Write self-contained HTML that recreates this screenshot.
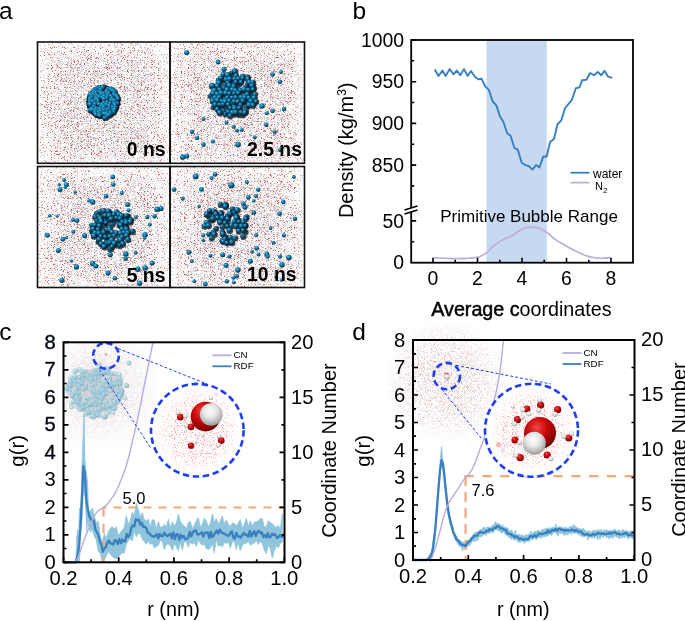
<!DOCTYPE html>
<html><head><meta charset="utf-8"><style>
html,body{margin:0;padding:0;background:#fff;width:685px;height:621px;overflow:hidden}
svg{display:block;font-family:"Liberation Sans", sans-serif;will-change:transform}
</style></head><body>
<svg width="685" height="621" viewBox="0 0 685 621">
<defs>
<radialGradient id="gBlue" cx="38%" cy="32%" r="72%"><stop offset="0" stop-color="#4ec8ee"/><stop offset="0.3" stop-color="#1a8cbc"/><stop offset="0.7" stop-color="#0b5174"/><stop offset="1" stop-color="#03202f"/></radialGradient>
<radialGradient id="gBlueD" cx="38%" cy="32%" r="72%"><stop offset="0" stop-color="#2a9ac4"/><stop offset="0.4" stop-color="#136f98"/><stop offset="1" stop-color="#042436"/></radialGradient>
<radialGradient id="gLBlue" cx="38%" cy="32%" r="72%"><stop offset="0" stop-color="#c8e6ef"/><stop offset="0.45" stop-color="#98cadb"/><stop offset="1" stop-color="#7099a8"/></radialGradient>
<radialGradient id="gRed" cx="40%" cy="32%" r="75%"><stop offset="0" stop-color="#f24848"/><stop offset="0.4" stop-color="#cc0a0a"/><stop offset="0.85" stop-color="#800000"/><stop offset="1" stop-color="#400000"/></radialGradient>
<radialGradient id="gWhite" cx="45%" cy="35%" r="70%"><stop offset="0" stop-color="#ffffff"/><stop offset="0.45" stop-color="#e4e4e4"/><stop offset="0.85" stop-color="#a8a8a8"/><stop offset="1" stop-color="#777"/></radialGradient>
<filter id="noiseAr" x="0" y="0" width="100%" height="100%">
  <feTurbulence type="fractalNoise" baseFrequency="1.7" numOctaves="1" seed="7" result="n"/>
  <feColorMatrix in="n" type="matrix" values="0 0 0 0 0.52  0 0 0 0 0.11  0 0 0 0 0.11  9 0 0 0 -5.3"/>
</filter>
<filter id="noiseAg" x="0" y="0" width="100%" height="100%">
  <feTurbulence type="fractalNoise" baseFrequency="1.7" numOctaves="1" seed="7" result="n"/>
  <feColorMatrix in="n" type="matrix" values="0 0 0 0 0.62  0 0 0 0 0.60  0 0 0 0 0.62  0 8 0 0 -3.85"/>
</filter>
<filter id="noiseR" x="0" y="0" width="100%" height="100%">
  <feTurbulence type="fractalNoise" baseFrequency="0.9" numOctaves="3" seed="3" result="n"/>
  <feColorMatrix in="n" type="matrix" values="0 0 0 0 0.95  0 0 0 0 0.25  0 0 0 0 0.25  5 0 0 0 -2.72" result="red"/>
  <feMerge><feMergeNode in="red"/></feMerge>
</filter>
<filter id="noiseD" x="0" y="0" width="100%" height="100%">
  <feTurbulence type="fractalNoise" baseFrequency="2.3" numOctaves="1" seed="11" result="n"/>
  <feColorMatrix in="n" type="matrix" values="0 0 0 0 0.66  0 0 0 0 0.36  0 0 0 0 0.36  4 0 0 0 -2.05" result="red"/>
  <feColorMatrix in="n" type="matrix" values="0 0 0 0 0.74  0 0 0 0 0.70  0 0 0 0 0.70  0 4 0 0 -1.95" result="gray"/>
  <feMerge><feMergeNode in="gray"/><feMergeNode in="red"/></feMerge>
</filter>
<filter id="noiseC" x="0" y="0" width="100%" height="100%">
  <feTurbulence type="fractalNoise" baseFrequency="1.9" numOctaves="1" seed="5" result="n"/>
  <feColorMatrix in="n" type="matrix" values="0 0 0 0 0.85  0 0 0 0 0.72  0 0 0 0 0.74  10 0 0 0 -5.0" result="red"/>
  <feColorMatrix in="n" type="matrix" values="0 0 0 0 0.80  0 0 0 0 0.80  0 0 0 0 0.82  0 10 0 0 -4.6" result="gray"/>
  <feMerge><feMergeNode in="gray"/><feMergeNode in="red"/></feMerge>
</filter>
<linearGradient id="densH" x1="0" y1="0" x2="1" y2="0"><stop offset="0" stop-color="#333"/><stop offset="0.1" stop-color="#777"/><stop offset="0.2" stop-color="#fff"/><stop offset="0.8" stop-color="#fff"/><stop offset="0.9" stop-color="#777"/><stop offset="1" stop-color="#333"/></linearGradient>
<linearGradient id="densV" x1="0" y1="0" x2="0" y2="1"><stop offset="0" stop-color="#333"/><stop offset="0.1" stop-color="#888"/><stop offset="0.18" stop-color="#fff"/><stop offset="0.85" stop-color="#fff"/><stop offset="1" stop-color="#666"/></linearGradient>
<linearGradient id="densHr" x1="0" y1="0" x2="1" y2="0"><stop offset="0" stop-color="#777"/><stop offset="0.06" stop-color="#fff"/><stop offset="0.92" stop-color="#fff"/><stop offset="1" stop-color="#666"/></linearGradient>
<linearGradient id="densVr" x1="0" y1="0" x2="0" y2="1"><stop offset="0" stop-color="#888"/><stop offset="0.06" stop-color="#fff"/><stop offset="0.94" stop-color="#fff"/><stop offset="1" stop-color="#999"/></linearGradient>
<radialGradient id="densA" cx="50%" cy="50%" r="62%"><stop offset="0" stop-color="#fff"/><stop offset="0.55" stop-color="#fff"/><stop offset="0.85" stop-color="#bbb"/><stop offset="1" stop-color="#777"/></radialGradient>
<mask id="mA"><rect x="0" y="0" width="685" height="621" fill="url(#densA)"/></mask><clipPath id="cb0"><rect x="37.5" y="42" width="132.5" height="121.30000000000001"/></clipPath><mask id="mk0"><rect x="37.5" y="42" width="132.5" height="121.30000000000001" fill="url(#densH)"/></mask><mask id="mv0"><rect x="37.5" y="42" width="132.5" height="121.30000000000001" fill="url(#densV)"/></mask><mask id="rk0"><rect x="37.5" y="42" width="132.5" height="121.30000000000001" fill="url(#densHr)"/></mask><mask id="rv0"><rect x="37.5" y="42" width="132.5" height="121.30000000000001" fill="url(#densVr)"/></mask><clipPath id="cb1"><rect x="170" y="42" width="134.5" height="121.30000000000001"/></clipPath><mask id="mk1"><rect x="170" y="42" width="134.5" height="121.30000000000001" fill="url(#densH)"/></mask><mask id="mv1"><rect x="170" y="42" width="134.5" height="121.30000000000001" fill="url(#densV)"/></mask><mask id="rk1"><rect x="170" y="42" width="134.5" height="121.30000000000001" fill="url(#densHr)"/></mask><mask id="rv1"><rect x="170" y="42" width="134.5" height="121.30000000000001" fill="url(#densVr)"/></mask><clipPath id="cb2"><rect x="37.5" y="166.5" width="132.5" height="121.0"/></clipPath><mask id="mk2"><rect x="37.5" y="166.5" width="132.5" height="121.0" fill="url(#densH)"/></mask><mask id="mv2"><rect x="37.5" y="166.5" width="132.5" height="121.0" fill="url(#densV)"/></mask><mask id="rk2"><rect x="37.5" y="166.5" width="132.5" height="121.0" fill="url(#densHr)"/></mask><mask id="rv2"><rect x="37.5" y="166.5" width="132.5" height="121.0" fill="url(#densVr)"/></mask><clipPath id="cb3"><rect x="170" y="166.5" width="134.5" height="121.0"/></clipPath><mask id="mk3"><rect x="170" y="166.5" width="134.5" height="121.0" fill="url(#densH)"/></mask><mask id="mv3"><rect x="170" y="166.5" width="134.5" height="121.0" fill="url(#densV)"/></mask><mask id="rk3"><rect x="170" y="166.5" width="134.5" height="121.0" fill="url(#densHr)"/></mask><mask id="rv3"><rect x="170" y="166.5" width="134.5" height="121.0" fill="url(#densVr)"/></mask><radialGradient id="fogCm"><stop offset="0" stop-color="#fff"/><stop offset="0.5" stop-color="#bbb"/><stop offset="1" stop-color="#000"/></radialGradient><mask id="fogCmask"><ellipse cx="100" cy="388" rx="62" ry="62" fill="url(#fogCm)"/></mask><clipPath id="clipC"><rect x="64" y="343" width="220" height="219"/></clipPath><radialGradient id="pnG1"><stop offset="0" stop-color="#fff"/><stop offset="0.6" stop-color="#ddd"/><stop offset="1" stop-color="#000"/></radialGradient><mask id="pnM1"><circle cx="197.3" cy="430.2" r="44" fill="url(#pnG1)"/></mask><radialGradient id="fogD" cx="50%" cy="50%" r="50%"><stop offset="0" stop-color="#d9b8b8" stop-opacity="0.55"/><stop offset="0.55" stop-color="#e2c8c8" stop-opacity="0.35"/><stop offset="1" stop-color="#f0e4e4" stop-opacity="0"/></radialGradient><radialGradient id="fogDm"><stop offset="0" stop-color="#fff"/><stop offset="0.5" stop-color="#ccc"/><stop offset="0.8" stop-color="#555"/><stop offset="1" stop-color="#000"/></radialGradient><mask id="fogDmask"><ellipse cx="446" cy="381" rx="62" ry="62" fill="url(#fogDm)"/></mask><radialGradient id="pnG2"><stop offset="0" stop-color="#fff"/><stop offset="0.6" stop-color="#ddd"/><stop offset="1" stop-color="#000"/></radialGradient><mask id="pnM2"><circle cx="531.5" cy="430.3" r="44" fill="url(#pnG2)"/></mask></defs>
<text x="-0.9" y="18.6" font-size="24.5" text-anchor="start" font-weight="normal" fill="#000" >a</text>
<g mask="url(#mk0)"><g mask="url(#mv0)"><rect x="38.5" y="43" width="130.5" height="119.30000000000001" filter="url(#noiseAg)"/></g></g>
<g mask="url(#rk0)"><g mask="url(#rv0)"><rect x="38.5" y="43" width="130.5" height="119.30000000000001" filter="url(#noiseAr)"/></g></g>
<g mask="url(#mk1)"><g mask="url(#mv1)"><rect x="171" y="43" width="132.5" height="119.30000000000001" filter="url(#noiseAg)"/></g></g>
<g mask="url(#rk1)"><g mask="url(#rv1)"><rect x="171" y="43" width="132.5" height="119.30000000000001" filter="url(#noiseAr)"/></g></g>
<g mask="url(#mk2)"><g mask="url(#mv2)"><rect x="38.5" y="167.5" width="130.5" height="119.0" filter="url(#noiseAg)"/></g></g>
<g mask="url(#rk2)"><g mask="url(#rv2)"><rect x="38.5" y="167.5" width="130.5" height="119.0" filter="url(#noiseAr)"/></g></g>
<g mask="url(#mk3)"><g mask="url(#mv3)"><rect x="171" y="167.5" width="132.5" height="119.0" filter="url(#noiseAg)"/></g></g>
<g mask="url(#rk3)"><g mask="url(#rv3)"><rect x="171" y="167.5" width="132.5" height="119.0" filter="url(#noiseAr)"/></g></g>
<circle cx="103" cy="102" r="16.8" fill="#06263a"/><g fill="#031822" opacity="0.8"><circle cx="104.0" cy="87.3" r="2.9"/><circle cx="103.5" cy="87.5" r="2.6"/><circle cx="100.2" cy="88.0" r="2.8"/><circle cx="103.2" cy="88.4" r="2.9"/><circle cx="98.0" cy="88.4" r="2.7"/><circle cx="108.5" cy="89.3" r="2.6"/><circle cx="111.5" cy="89.6" r="2.9"/><circle cx="101.0" cy="90.1" r="3.1"/><circle cx="95.8" cy="90.1" r="3.0"/><circle cx="113.2" cy="90.3" r="2.6"/><circle cx="110.9" cy="90.5" r="2.9"/><circle cx="94.9" cy="90.8" r="2.8"/><circle cx="107.5" cy="91.0" r="2.8"/><circle cx="96.9" cy="91.0" r="2.9"/><circle cx="94.3" cy="91.1" r="2.7"/><circle cx="95.6" cy="91.1" r="2.7"/><circle cx="113.1" cy="91.2" r="2.7"/><circle cx="94.7" cy="91.8" r="2.8"/><circle cx="115.0" cy="92.1" r="2.8"/><circle cx="93.5" cy="92.2" r="2.6"/><circle cx="114.7" cy="92.3" r="2.8"/><circle cx="98.4" cy="92.7" r="2.8"/><circle cx="106.9" cy="92.8" r="3.1"/><circle cx="115.0" cy="93.0" r="2.6"/><circle cx="100.8" cy="93.0" r="3.0"/><circle cx="96.3" cy="93.1" r="2.8"/><circle cx="106.8" cy="93.2" r="2.7"/><circle cx="109.2" cy="93.5" r="2.9"/><circle cx="93.4" cy="93.7" r="2.8"/><circle cx="115.5" cy="93.7" r="2.9"/><circle cx="101.8" cy="93.9" r="3.1"/><circle cx="104.0" cy="94.2" r="2.9"/><circle cx="92.5" cy="94.3" r="2.8"/><circle cx="114.9" cy="94.4" r="2.7"/><circle cx="94.2" cy="94.4" r="2.6"/><circle cx="96.1" cy="95.1" r="2.9"/><circle cx="93.7" cy="95.2" r="2.6"/><circle cx="90.6" cy="95.2" r="2.9"/><circle cx="114.4" cy="95.3" r="3.1"/><circle cx="107.9" cy="95.4" r="2.8"/><circle cx="102.0" cy="95.7" r="3.0"/><circle cx="94.0" cy="96.0" r="2.9"/><circle cx="109.5" cy="96.2" r="2.8"/><circle cx="109.6" cy="96.3" r="3.1"/><circle cx="116.8" cy="96.5" r="3.1"/><circle cx="92.2" cy="96.5" r="2.6"/><circle cx="97.5" cy="96.6" r="2.8"/><circle cx="108.3" cy="96.6" r="2.7"/><circle cx="104.5" cy="96.9" r="3.1"/><circle cx="111.3" cy="96.9" r="2.8"/><circle cx="100.6" cy="97.2" r="3.0"/><circle cx="107.6" cy="97.7" r="2.8"/><circle cx="96.1" cy="97.9" r="2.8"/><circle cx="99.0" cy="97.9" r="3.1"/><circle cx="102.0" cy="98.0" r="2.7"/><circle cx="118.1" cy="98.1" r="2.7"/><circle cx="100.5" cy="98.2" r="3.1"/><circle cx="103.0" cy="98.2" r="2.6"/><circle cx="91.0" cy="98.2" r="2.8"/><circle cx="96.0" cy="98.3" r="2.7"/><circle cx="92.0" cy="98.3" r="3.1"/><circle cx="96.6" cy="98.7" r="2.7"/><circle cx="98.8" cy="98.8" r="2.6"/><circle cx="96.1" cy="99.0" r="2.6"/><circle cx="106.4" cy="99.1" r="2.8"/><circle cx="90.5" cy="99.2" r="2.8"/><circle cx="112.6" cy="99.3" r="3.0"/><circle cx="107.2" cy="99.4" r="2.6"/><circle cx="118.3" cy="99.5" r="2.9"/><circle cx="104.5" cy="99.9" r="3.0"/><circle cx="97.4" cy="100.1" r="2.9"/><circle cx="90.1" cy="100.8" r="2.9"/><circle cx="111.3" cy="101.0" r="2.8"/><circle cx="113.6" cy="101.1" r="3.0"/><circle cx="91.0" cy="101.2" r="2.9"/><circle cx="92.0" cy="101.3" r="2.6"/><circle cx="114.7" cy="101.4" r="3.1"/><circle cx="98.4" cy="101.6" r="2.8"/><circle cx="93.1" cy="101.7" r="3.0"/><circle cx="95.2" cy="101.8" r="2.8"/><circle cx="90.3" cy="101.8" r="2.6"/><circle cx="93.2" cy="102.3" r="3.0"/><circle cx="107.3" cy="102.8" r="2.6"/><circle cx="107.5" cy="103.3" r="2.9"/><circle cx="104.2" cy="103.7" r="3.1"/><circle cx="117.2" cy="103.9" r="2.7"/><circle cx="118.0" cy="104.0" r="2.7"/><circle cx="98.2" cy="104.0" r="3.0"/><circle cx="110.5" cy="104.2" r="2.8"/><circle cx="96.2" cy="104.3" r="2.7"/><circle cx="91.5" cy="104.4" r="2.8"/><circle cx="90.3" cy="104.4" r="3.0"/><circle cx="114.4" cy="104.4" r="2.8"/><circle cx="89.8" cy="104.8" r="2.8"/><circle cx="115.4" cy="104.8" r="3.0"/><circle cx="104.6" cy="105.0" r="3.0"/><circle cx="99.6" cy="105.0" r="2.8"/><circle cx="90.4" cy="105.1" r="3.1"/><circle cx="95.1" cy="105.1" r="2.7"/><circle cx="102.7" cy="105.4" r="3.0"/><circle cx="107.8" cy="105.5" r="3.1"/><circle cx="106.5" cy="105.7" r="3.1"/><circle cx="109.5" cy="106.0" r="2.8"/><circle cx="115.5" cy="106.2" r="2.6"/><circle cx="102.0" cy="106.9" r="2.9"/><circle cx="104.2" cy="106.9" r="2.9"/><circle cx="112.9" cy="107.3" r="2.8"/><circle cx="94.7" cy="107.7" r="3.1"/><circle cx="94.0" cy="107.9" r="3.0"/><circle cx="116.3" cy="108.2" r="2.9"/><circle cx="104.5" cy="108.2" r="2.9"/><circle cx="115.7" cy="108.4" r="3.0"/><circle cx="93.2" cy="108.9" r="2.6"/><circle cx="96.5" cy="109.0" r="2.9"/><circle cx="109.5" cy="109.0" r="3.0"/><circle cx="92.0" cy="109.1" r="2.8"/><circle cx="99.3" cy="109.5" r="3.0"/><circle cx="103.9" cy="109.5" r="2.7"/><circle cx="104.1" cy="109.6" r="2.8"/><circle cx="103.2" cy="109.6" r="3.0"/><circle cx="100.9" cy="109.7" r="3.0"/><circle cx="109.3" cy="109.9" r="3.0"/><circle cx="113.3" cy="110.1" r="2.6"/><circle cx="96.9" cy="110.2" r="2.8"/><circle cx="94.6" cy="110.2" r="2.6"/><circle cx="106.8" cy="110.3" r="2.7"/><circle cx="107.0" cy="110.4" r="3.0"/><circle cx="114.9" cy="110.5" r="3.1"/><circle cx="90.5" cy="110.7" r="2.9"/><circle cx="92.6" cy="110.7" r="3.1"/><circle cx="95.9" cy="110.8" r="3.0"/><circle cx="100.0" cy="110.9" r="2.8"/><circle cx="102.5" cy="110.9" r="2.9"/><circle cx="108.1" cy="111.2" r="2.7"/><circle cx="106.9" cy="111.2" r="2.6"/><circle cx="104.3" cy="111.4" r="3.1"/><circle cx="99.9" cy="111.7" r="2.9"/><circle cx="98.3" cy="111.8" r="2.8"/><circle cx="102.4" cy="112.0" r="2.8"/><circle cx="100.6" cy="112.0" r="3.0"/><circle cx="114.1" cy="112.8" r="2.9"/><circle cx="111.0" cy="113.0" r="3.0"/><circle cx="98.3" cy="113.4" r="3.0"/><circle cx="95.6" cy="113.4" r="3.0"/><circle cx="95.6" cy="113.5" r="2.9"/><circle cx="112.2" cy="113.7" r="2.6"/><circle cx="107.4" cy="113.7" r="3.0"/><circle cx="110.6" cy="113.9" r="3.0"/><circle cx="104.0" cy="114.4" r="3.0"/><circle cx="104.5" cy="114.4" r="2.8"/><circle cx="106.6" cy="114.5" r="3.1"/><circle cx="99.6" cy="115.0" r="2.9"/><circle cx="110.3" cy="115.2" r="3.1"/><circle cx="96.4" cy="115.3" r="2.8"/><circle cx="101.6" cy="115.5" r="2.6"/><circle cx="108.8" cy="116.0" r="3.0"/><circle cx="99.8" cy="116.1" r="3.1"/><circle cx="100.3" cy="116.6" r="2.6"/><circle cx="106.8" cy="118.0" r="2.8"/><circle cx="105.1" cy="118.5" r="2.8"/></g><circle cx="103.4" cy="86.5" r="2.2" fill="url(#gBlue)"/><circle cx="102.9" cy="86.7" r="1.9" fill="url(#gBlue)"/><circle cx="99.6" cy="87.2" r="2.1" fill="url(#gBlue)"/><circle cx="102.6" cy="87.6" r="2.2" fill="url(#gBlue)"/><circle cx="97.4" cy="87.6" r="2.0" fill="url(#gBlue)"/><circle cx="107.9" cy="88.5" r="1.9" fill="url(#gBlue)"/><circle cx="110.9" cy="88.8" r="2.2" fill="url(#gBlue)"/><circle cx="100.4" cy="89.3" r="2.4" fill="url(#gBlue)"/><circle cx="95.2" cy="89.3" r="2.3" fill="url(#gBlue)"/><circle cx="112.6" cy="89.5" r="1.9" fill="url(#gBlue)"/><circle cx="110.3" cy="89.7" r="2.2" fill="url(#gBlue)"/><circle cx="94.3" cy="90.0" r="2.1" fill="url(#gBlue)"/><circle cx="106.9" cy="90.2" r="2.1" fill="url(#gBlue)"/><circle cx="96.3" cy="90.2" r="2.2" fill="url(#gBlue)"/><circle cx="93.7" cy="90.3" r="2.0" fill="url(#gBlue)"/><circle cx="95.0" cy="90.3" r="2.0" fill="url(#gBlue)"/><circle cx="112.5" cy="90.4" r="2.0" fill="url(#gBlue)"/><circle cx="94.1" cy="91.0" r="2.1" fill="url(#gBlue)"/><circle cx="114.4" cy="91.3" r="2.1" fill="url(#gBlue)"/><circle cx="92.9" cy="91.4" r="1.9" fill="url(#gBlue)"/><circle cx="114.1" cy="91.5" r="2.1" fill="url(#gBlue)"/><circle cx="97.8" cy="91.9" r="2.1" fill="url(#gBlue)"/><circle cx="106.3" cy="92.0" r="2.4" fill="url(#gBlue)"/><circle cx="114.4" cy="92.2" r="1.9" fill="url(#gBlue)"/><circle cx="100.2" cy="92.2" r="2.3" fill="url(#gBlue)"/><circle cx="95.7" cy="92.3" r="2.1" fill="url(#gBlue)"/><circle cx="106.2" cy="92.4" r="2.0" fill="url(#gBlue)"/><circle cx="108.6" cy="92.7" r="2.2" fill="url(#gBlue)"/><circle cx="92.8" cy="92.9" r="2.1" fill="url(#gBlue)"/><circle cx="114.9" cy="92.9" r="2.2" fill="url(#gBlue)"/><circle cx="101.2" cy="93.1" r="2.4" fill="url(#gBlue)"/><circle cx="103.4" cy="93.4" r="2.2" fill="url(#gBlue)"/><circle cx="91.9" cy="93.5" r="2.1" fill="url(#gBlue)"/><circle cx="114.3" cy="93.6" r="2.0" fill="url(#gBlue)"/><circle cx="93.6" cy="93.6" r="1.9" fill="url(#gBlue)"/><circle cx="95.5" cy="94.3" r="2.2" fill="url(#gBlue)"/><circle cx="93.1" cy="94.4" r="1.9" fill="url(#gBlue)"/><circle cx="90.0" cy="94.4" r="2.2" fill="url(#gBlue)"/><circle cx="113.8" cy="94.5" r="2.4" fill="url(#gBlue)"/><circle cx="107.3" cy="94.6" r="2.1" fill="url(#gBlue)"/><circle cx="101.4" cy="94.9" r="2.3" fill="url(#gBlue)"/><circle cx="93.4" cy="95.2" r="2.2" fill="url(#gBlue)"/><circle cx="108.9" cy="95.4" r="2.1" fill="url(#gBlue)"/><circle cx="109.0" cy="95.5" r="2.4" fill="url(#gBlue)"/><circle cx="116.2" cy="95.7" r="2.4" fill="url(#gBlue)"/><circle cx="91.6" cy="95.7" r="1.9" fill="url(#gBlue)"/><circle cx="96.9" cy="95.8" r="2.1" fill="url(#gBlue)"/><circle cx="107.7" cy="95.8" r="2.0" fill="url(#gBlue)"/><circle cx="103.9" cy="96.1" r="2.4" fill="url(#gBlue)"/><circle cx="110.7" cy="96.1" r="2.1" fill="url(#gBlue)"/><circle cx="100.0" cy="96.4" r="2.3" fill="url(#gBlue)"/><circle cx="107.0" cy="96.9" r="2.1" fill="url(#gBlue)"/><circle cx="95.5" cy="97.1" r="2.1" fill="url(#gBlue)"/><circle cx="98.4" cy="97.1" r="2.4" fill="url(#gBlue)"/><circle cx="101.4" cy="97.2" r="2.0" fill="url(#gBlue)"/><circle cx="117.5" cy="97.3" r="2.0" fill="url(#gBlue)"/><circle cx="99.9" cy="97.4" r="2.4" fill="url(#gBlue)"/><circle cx="102.4" cy="97.4" r="1.9" fill="url(#gBlue)"/><circle cx="90.4" cy="97.4" r="2.1" fill="url(#gBlue)"/><circle cx="95.4" cy="97.5" r="2.0" fill="url(#gBlue)"/><circle cx="91.4" cy="97.5" r="2.4" fill="url(#gBlue)"/><circle cx="96.0" cy="97.9" r="2.0" fill="url(#gBlue)"/><circle cx="98.2" cy="98.0" r="1.9" fill="url(#gBlue)"/><circle cx="95.5" cy="98.2" r="1.9" fill="url(#gBlue)"/><circle cx="105.8" cy="98.3" r="2.1" fill="url(#gBlue)"/><circle cx="89.9" cy="98.4" r="2.1" fill="url(#gBlue)"/><circle cx="112.0" cy="98.5" r="2.3" fill="url(#gBlue)"/><circle cx="106.6" cy="98.6" r="1.9" fill="url(#gBlue)"/><circle cx="117.7" cy="98.7" r="2.2" fill="url(#gBlue)"/><circle cx="103.9" cy="99.1" r="2.3" fill="url(#gBlue)"/><circle cx="96.8" cy="99.3" r="2.2" fill="url(#gBlue)"/><circle cx="89.5" cy="100.0" r="2.2" fill="url(#gBlue)"/><circle cx="110.7" cy="100.2" r="2.1" fill="url(#gBlue)"/><circle cx="113.0" cy="100.3" r="2.3" fill="url(#gBlue)"/><circle cx="90.4" cy="100.4" r="2.2" fill="url(#gBlue)"/><circle cx="91.4" cy="100.5" r="1.9" fill="url(#gBlue)"/><circle cx="114.1" cy="100.6" r="2.4" fill="url(#gBlue)"/><circle cx="97.8" cy="100.8" r="2.1" fill="url(#gBlue)"/><circle cx="92.5" cy="100.9" r="2.3" fill="url(#gBlue)"/><circle cx="94.6" cy="101.0" r="2.1" fill="url(#gBlue)"/><circle cx="89.7" cy="101.0" r="1.9" fill="url(#gBlue)"/><circle cx="92.6" cy="101.5" r="2.3" fill="url(#gBlue)"/><circle cx="106.7" cy="102.0" r="1.9" fill="url(#gBlue)"/><circle cx="106.9" cy="102.5" r="2.2" fill="url(#gBlue)"/><circle cx="103.6" cy="102.9" r="2.4" fill="url(#gBlue)"/><circle cx="116.6" cy="103.1" r="2.0" fill="url(#gBlue)"/><circle cx="117.4" cy="103.2" r="2.0" fill="url(#gBlue)"/><circle cx="97.6" cy="103.2" r="2.3" fill="url(#gBlue)"/><circle cx="109.9" cy="103.4" r="2.1" fill="url(#gBlue)"/><circle cx="95.6" cy="103.5" r="2.0" fill="url(#gBlue)"/><circle cx="90.9" cy="103.6" r="2.1" fill="url(#gBlue)"/><circle cx="89.7" cy="103.6" r="2.3" fill="url(#gBlue)"/><circle cx="113.8" cy="103.6" r="2.1" fill="url(#gBlue)"/><circle cx="89.2" cy="104.0" r="2.1" fill="url(#gBlue)"/><circle cx="114.8" cy="104.0" r="2.3" fill="url(#gBlue)"/><circle cx="104.0" cy="104.2" r="2.3" fill="url(#gBlue)"/><circle cx="99.0" cy="104.2" r="2.1" fill="url(#gBlue)"/><circle cx="89.8" cy="104.3" r="2.4" fill="url(#gBlue)"/><circle cx="94.5" cy="104.3" r="2.0" fill="url(#gBlue)"/><circle cx="102.1" cy="104.6" r="2.3" fill="url(#gBlue)"/><circle cx="107.2" cy="104.7" r="2.4" fill="url(#gBlue)"/><circle cx="105.9" cy="104.9" r="2.4" fill="url(#gBlue)"/><circle cx="108.9" cy="105.2" r="2.1" fill="url(#gBlue)"/><circle cx="114.9" cy="105.4" r="1.9" fill="url(#gBlue)"/><circle cx="101.4" cy="106.1" r="2.2" fill="url(#gBlue)"/><circle cx="103.6" cy="106.1" r="2.2" fill="url(#gBlue)"/><circle cx="112.3" cy="106.5" r="2.1" fill="url(#gBlue)"/><circle cx="94.1" cy="106.9" r="2.4" fill="url(#gBlue)"/><circle cx="93.4" cy="107.1" r="2.3" fill="url(#gBlue)"/><circle cx="115.7" cy="107.4" r="2.2" fill="url(#gBlue)"/><circle cx="103.9" cy="107.4" r="2.2" fill="url(#gBlue)"/><circle cx="115.1" cy="107.6" r="2.3" fill="url(#gBlue)"/><circle cx="92.6" cy="108.1" r="1.9" fill="url(#gBlue)"/><circle cx="95.9" cy="108.2" r="2.2" fill="url(#gBlue)"/><circle cx="108.9" cy="108.2" r="2.3" fill="url(#gBlue)"/><circle cx="91.4" cy="108.3" r="2.1" fill="url(#gBlue)"/><circle cx="98.7" cy="108.7" r="2.3" fill="url(#gBlue)"/><circle cx="103.3" cy="108.7" r="2.0" fill="url(#gBlue)"/><circle cx="103.5" cy="108.8" r="2.1" fill="url(#gBlue)"/><circle cx="102.6" cy="108.8" r="2.3" fill="url(#gBlue)"/><circle cx="100.3" cy="108.9" r="2.3" fill="url(#gBlue)"/><circle cx="108.7" cy="109.1" r="2.3" fill="url(#gBlue)"/><circle cx="112.7" cy="109.3" r="1.9" fill="url(#gBlue)"/><circle cx="96.3" cy="109.4" r="2.1" fill="url(#gBlue)"/><circle cx="94.0" cy="109.4" r="1.9" fill="url(#gBlue)"/><circle cx="106.2" cy="109.5" r="2.0" fill="url(#gBlue)"/><circle cx="106.4" cy="109.6" r="2.3" fill="url(#gBlue)"/><circle cx="114.3" cy="109.7" r="2.4" fill="url(#gBlue)"/><circle cx="89.9" cy="109.9" r="2.2" fill="url(#gBlue)"/><circle cx="92.0" cy="109.9" r="2.4" fill="url(#gBlue)"/><circle cx="95.3" cy="110.0" r="2.3" fill="url(#gBlue)"/><circle cx="99.4" cy="110.1" r="2.1" fill="url(#gBlue)"/><circle cx="101.9" cy="110.1" r="2.2" fill="url(#gBlue)"/><circle cx="107.5" cy="110.4" r="2.0" fill="url(#gBlue)"/><circle cx="106.3" cy="110.4" r="1.9" fill="url(#gBlue)"/><circle cx="103.7" cy="110.6" r="2.4" fill="url(#gBlue)"/><circle cx="99.3" cy="110.9" r="2.2" fill="url(#gBlue)"/><circle cx="97.7" cy="111.0" r="2.1" fill="url(#gBlue)"/><circle cx="101.8" cy="111.2" r="2.1" fill="url(#gBlue)"/><circle cx="100.0" cy="111.2" r="2.3" fill="url(#gBlue)"/><circle cx="113.5" cy="112.0" r="2.2" fill="url(#gBlue)"/><circle cx="110.4" cy="112.2" r="2.3" fill="url(#gBlue)"/><circle cx="97.7" cy="112.6" r="2.3" fill="url(#gBlue)"/><circle cx="95.0" cy="112.6" r="2.3" fill="url(#gBlue)"/><circle cx="95.0" cy="112.7" r="2.2" fill="url(#gBlue)"/><circle cx="111.6" cy="112.9" r="1.9" fill="url(#gBlue)"/><circle cx="106.8" cy="112.9" r="2.3" fill="url(#gBlue)"/><circle cx="110.0" cy="113.1" r="2.3" fill="url(#gBlue)"/><circle cx="103.4" cy="113.6" r="2.3" fill="url(#gBlue)"/><circle cx="103.9" cy="113.6" r="2.1" fill="url(#gBlue)"/><circle cx="106.0" cy="113.7" r="2.4" fill="url(#gBlue)"/><circle cx="99.0" cy="114.2" r="2.2" fill="url(#gBlue)"/><circle cx="109.7" cy="114.4" r="2.4" fill="url(#gBlue)"/><circle cx="95.8" cy="114.5" r="2.1" fill="url(#gBlue)"/><circle cx="101.0" cy="114.7" r="1.9" fill="url(#gBlue)"/><circle cx="108.2" cy="115.2" r="2.3" fill="url(#gBlue)"/><circle cx="99.2" cy="115.3" r="2.4" fill="url(#gBlue)"/><circle cx="99.7" cy="115.8" r="1.9" fill="url(#gBlue)"/><circle cx="106.2" cy="117.2" r="2.1" fill="url(#gBlue)"/><circle cx="104.5" cy="117.7" r="2.1" fill="url(#gBlue)"/>
<g clip-path="url(#cb1)"><g fill="#041c2a" opacity="0.8"><circle cx="231.9" cy="73.7" r="2.9"/><circle cx="226.3" cy="77.3" r="3.2"/><circle cx="230.2" cy="77.3" r="3.3"/><circle cx="243.3" cy="76.9" r="3.1"/><circle cx="247.8" cy="77.5" r="3.1"/><circle cx="218.8" cy="80.9" r="3.2"/><circle cx="223.1" cy="81.1" r="3.0"/><circle cx="228.0" cy="81.8" r="3.4"/><circle cx="231.9" cy="81.8" r="3.0"/><circle cx="237.0" cy="81.8" r="3.0"/><circle cx="241.3" cy="81.0" r="2.9"/><circle cx="225.6" cy="85.5" r="3.3"/><circle cx="230.5" cy="84.5" r="3.0"/><circle cx="234.8" cy="85.2" r="3.4"/><circle cx="238.7" cy="84.6" r="3.4"/><circle cx="248.0" cy="85.3" r="3.2"/><circle cx="252.3" cy="85.3" r="3.1"/><circle cx="215.7" cy="89.2" r="3.3"/><circle cx="219.3" cy="88.1" r="3.0"/><circle cx="224.4" cy="88.9" r="3.2"/><circle cx="232.2" cy="88.3" r="3.0"/><circle cx="236.9" cy="88.1" r="3.0"/><circle cx="245.9" cy="88.5" r="3.1"/><circle cx="253.6" cy="88.3" r="3.4"/><circle cx="217.3" cy="92.6" r="3.1"/><circle cx="221.7" cy="92.8" r="3.1"/><circle cx="226.4" cy="92.8" r="3.2"/><circle cx="234.7" cy="93.0" r="3.2"/><circle cx="238.6" cy="92.7" r="3.1"/><circle cx="242.9" cy="92.1" r="3.0"/><circle cx="247.5" cy="92.0" r="3.3"/><circle cx="251.4" cy="93.0" r="3.1"/><circle cx="211.0" cy="96.6" r="3.1"/><circle cx="215.3" cy="95.8" r="3.1"/><circle cx="223.3" cy="95.7" r="3.4"/><circle cx="232.9" cy="96.5" r="3.3"/><circle cx="244.6" cy="95.8" r="3.0"/><circle cx="249.1" cy="96.4" r="3.0"/><circle cx="213.1" cy="99.7" r="3.2"/><circle cx="221.6" cy="100.0" r="3.1"/><circle cx="225.9" cy="100.1" r="3.4"/><circle cx="235.1" cy="100.1" r="3.1"/><circle cx="242.6" cy="99.2" r="2.9"/><circle cx="246.8" cy="99.1" r="2.9"/><circle cx="215.7" cy="103.5" r="3.3"/><circle cx="219.3" cy="103.6" r="3.0"/><circle cx="236.8" cy="103.8" r="3.0"/><circle cx="245.6" cy="103.3" r="3.4"/><circle cx="250.2" cy="103.5" r="3.2"/><circle cx="253.9" cy="103.3" r="3.2"/><circle cx="213.6" cy="107.6" r="2.9"/><circle cx="217.6" cy="107.4" r="3.2"/><circle cx="221.7" cy="107.4" r="3.0"/><circle cx="225.7" cy="108.0" r="3.1"/><circle cx="230.1" cy="106.8" r="3.0"/><circle cx="234.3" cy="107.1" r="3.4"/><circle cx="246.8" cy="107.5" r="3.0"/><circle cx="219.6" cy="111.2" r="3.4"/><circle cx="223.7" cy="111.6" r="3.1"/><circle cx="241.3" cy="110.8" r="2.9"/><circle cx="245.8" cy="111.4" r="3.4"/><circle cx="225.7" cy="114.7" r="2.9"/><circle cx="235.1" cy="114.8" r="3.0"/><circle cx="239.4" cy="115.1" r="3.0"/><circle cx="243.1" cy="115.3" r="3.0"/></g><circle cx="231.2" cy="72.8" r="2.0" fill="url(#gBlueD)"/><circle cx="225.6" cy="76.4" r="2.3" fill="url(#gBlueD)"/><circle cx="229.5" cy="76.4" r="2.4" fill="url(#gBlueD)"/><circle cx="242.6" cy="76.0" r="2.2" fill="url(#gBlueD)"/><circle cx="247.1" cy="76.6" r="2.2" fill="url(#gBlueD)"/><circle cx="218.1" cy="80.0" r="2.3" fill="url(#gBlueD)"/><circle cx="222.4" cy="80.2" r="2.1" fill="url(#gBlueD)"/><circle cx="227.3" cy="80.9" r="2.5" fill="url(#gBlueD)"/><circle cx="231.2" cy="80.9" r="2.1" fill="url(#gBlueD)"/><circle cx="236.3" cy="80.9" r="2.1" fill="url(#gBlueD)"/><circle cx="240.6" cy="80.1" r="2.0" fill="url(#gBlueD)"/><circle cx="224.9" cy="84.6" r="2.4" fill="url(#gBlueD)"/><circle cx="229.8" cy="83.6" r="2.1" fill="url(#gBlueD)"/><circle cx="234.1" cy="84.3" r="2.5" fill="url(#gBlueD)"/><circle cx="238.0" cy="83.7" r="2.5" fill="url(#gBlueD)"/><circle cx="247.3" cy="84.4" r="2.3" fill="url(#gBlueD)"/><circle cx="251.6" cy="84.4" r="2.2" fill="url(#gBlueD)"/><circle cx="215.0" cy="88.3" r="2.4" fill="url(#gBlueD)"/><circle cx="218.6" cy="87.2" r="2.1" fill="url(#gBlueD)"/><circle cx="223.7" cy="88.0" r="2.3" fill="url(#gBlueD)"/><circle cx="231.5" cy="87.4" r="2.1" fill="url(#gBlueD)"/><circle cx="236.2" cy="87.2" r="2.1" fill="url(#gBlueD)"/><circle cx="245.2" cy="87.6" r="2.2" fill="url(#gBlueD)"/><circle cx="252.9" cy="87.4" r="2.5" fill="url(#gBlueD)"/><circle cx="216.6" cy="91.7" r="2.2" fill="url(#gBlueD)"/><circle cx="221.0" cy="91.9" r="2.2" fill="url(#gBlueD)"/><circle cx="225.7" cy="91.9" r="2.3" fill="url(#gBlueD)"/><circle cx="234.0" cy="92.1" r="2.3" fill="url(#gBlueD)"/><circle cx="237.9" cy="91.8" r="2.2" fill="url(#gBlueD)"/><circle cx="242.2" cy="91.2" r="2.1" fill="url(#gBlueD)"/><circle cx="246.8" cy="91.1" r="2.4" fill="url(#gBlueD)"/><circle cx="250.7" cy="92.1" r="2.2" fill="url(#gBlueD)"/><circle cx="210.3" cy="95.7" r="2.2" fill="url(#gBlueD)"/><circle cx="214.6" cy="94.9" r="2.2" fill="url(#gBlueD)"/><circle cx="222.6" cy="94.8" r="2.5" fill="url(#gBlueD)"/><circle cx="232.2" cy="95.6" r="2.4" fill="url(#gBlueD)"/><circle cx="243.9" cy="94.9" r="2.1" fill="url(#gBlueD)"/><circle cx="248.4" cy="95.5" r="2.1" fill="url(#gBlueD)"/><circle cx="212.4" cy="98.8" r="2.3" fill="url(#gBlueD)"/><circle cx="220.9" cy="99.1" r="2.2" fill="url(#gBlueD)"/><circle cx="225.2" cy="99.2" r="2.5" fill="url(#gBlueD)"/><circle cx="234.4" cy="99.2" r="2.2" fill="url(#gBlueD)"/><circle cx="241.9" cy="98.3" r="2.0" fill="url(#gBlueD)"/><circle cx="246.1" cy="98.2" r="2.0" fill="url(#gBlueD)"/><circle cx="215.0" cy="102.6" r="2.4" fill="url(#gBlueD)"/><circle cx="218.6" cy="102.7" r="2.1" fill="url(#gBlueD)"/><circle cx="236.1" cy="102.9" r="2.1" fill="url(#gBlueD)"/><circle cx="244.9" cy="102.4" r="2.5" fill="url(#gBlueD)"/><circle cx="249.5" cy="102.6" r="2.3" fill="url(#gBlueD)"/><circle cx="253.2" cy="102.4" r="2.3" fill="url(#gBlueD)"/><circle cx="212.9" cy="106.7" r="2.0" fill="url(#gBlueD)"/><circle cx="216.9" cy="106.5" r="2.3" fill="url(#gBlueD)"/><circle cx="221.0" cy="106.5" r="2.1" fill="url(#gBlueD)"/><circle cx="225.0" cy="107.1" r="2.2" fill="url(#gBlueD)"/><circle cx="229.4" cy="105.9" r="2.1" fill="url(#gBlueD)"/><circle cx="233.6" cy="106.2" r="2.5" fill="url(#gBlueD)"/><circle cx="246.1" cy="106.6" r="2.1" fill="url(#gBlueD)"/><circle cx="218.9" cy="110.3" r="2.5" fill="url(#gBlueD)"/><circle cx="223.0" cy="110.7" r="2.2" fill="url(#gBlueD)"/><circle cx="240.6" cy="109.9" r="2.0" fill="url(#gBlueD)"/><circle cx="245.1" cy="110.5" r="2.5" fill="url(#gBlueD)"/><circle cx="225.0" cy="113.8" r="2.0" fill="url(#gBlueD)"/><circle cx="234.4" cy="113.9" r="2.1" fill="url(#gBlueD)"/><circle cx="238.7" cy="114.2" r="2.1" fill="url(#gBlueD)"/><circle cx="242.4" cy="114.4" r="2.1" fill="url(#gBlueD)"/><g fill="#041c2a" opacity="0.8"><circle cx="235.2" cy="71.9" r="3.3"/><circle cx="223.6" cy="75.1" r="3.0"/><circle cx="228.1" cy="75.7" r="3.4"/><circle cx="236.4" cy="76.2" r="3.0"/><circle cx="221.2" cy="78.7" r="3.1"/><circle cx="226.5" cy="80.0" r="3.2"/><circle cx="230.2" cy="79.7" r="3.4"/><circle cx="235.0" cy="79.6" r="3.0"/><circle cx="238.8" cy="79.3" r="3.0"/><circle cx="243.0" cy="78.9" r="3.0"/><circle cx="248.1" cy="79.6" r="3.1"/><circle cx="219.1" cy="83.4" r="3.4"/><circle cx="228.2" cy="83.3" r="2.9"/><circle cx="236.2" cy="82.8" r="3.0"/><circle cx="241.5" cy="82.7" r="2.9"/><circle cx="249.8" cy="83.0" r="3.3"/><circle cx="253.3" cy="82.7" r="3.0"/><circle cx="212.5" cy="86.5" r="3.4"/><circle cx="217.8" cy="86.8" r="3.0"/><circle cx="229.7" cy="86.2" r="3.4"/><circle cx="234.2" cy="87.1" r="3.2"/><circle cx="252.4" cy="86.2" r="3.3"/><circle cx="214.8" cy="91.1" r="3.4"/><circle cx="220.0" cy="90.4" r="3.2"/><circle cx="227.6" cy="90.4" r="3.3"/><circle cx="232.8" cy="90.3" r="3.3"/><circle cx="236.0" cy="91.0" r="3.1"/><circle cx="240.7" cy="90.8" r="2.9"/><circle cx="244.6" cy="90.0" r="3.4"/><circle cx="248.9" cy="90.5" r="3.0"/><circle cx="253.6" cy="90.0" r="3.0"/><circle cx="213.3" cy="93.9" r="3.4"/><circle cx="217.6" cy="94.6" r="3.3"/><circle cx="221.6" cy="93.7" r="3.4"/><circle cx="226.1" cy="93.7" r="3.3"/><circle cx="230.0" cy="94.2" r="3.0"/><circle cx="234.5" cy="94.1" r="2.9"/><circle cx="238.7" cy="93.7" r="3.1"/><circle cx="247.7" cy="94.9" r="3.1"/><circle cx="255.4" cy="94.9" r="2.9"/><circle cx="215.3" cy="98.2" r="3.3"/><circle cx="219.6" cy="98.0" r="3.2"/><circle cx="227.8" cy="98.3" r="3.1"/><circle cx="232.4" cy="98.3" r="2.9"/><circle cx="236.2" cy="98.1" r="3.2"/><circle cx="241.5" cy="97.9" r="3.2"/><circle cx="245.1" cy="97.9" r="3.2"/><circle cx="249.3" cy="98.6" r="3.2"/><circle cx="254.4" cy="98.6" r="3.4"/><circle cx="213.1" cy="101.6" r="3.2"/><circle cx="217.6" cy="101.0" r="3.3"/><circle cx="222.1" cy="101.7" r="2.9"/><circle cx="225.5" cy="102.2" r="3.4"/><circle cx="229.7" cy="101.5" r="2.9"/><circle cx="234.4" cy="102.1" r="3.0"/><circle cx="238.2" cy="102.3" r="3.2"/><circle cx="243.3" cy="101.4" r="3.2"/><circle cx="251.3" cy="101.7" r="3.3"/><circle cx="256.5" cy="102.1" r="2.9"/><circle cx="215.5" cy="105.2" r="3.1"/><circle cx="219.9" cy="105.4" r="2.9"/><circle cx="223.4" cy="105.1" r="2.9"/><circle cx="228.7" cy="105.2" r="3.0"/><circle cx="241.0" cy="105.6" r="2.9"/><circle cx="249.5" cy="105.6" r="3.3"/><circle cx="253.3" cy="105.8" r="3.2"/><circle cx="217.7" cy="109.8" r="3.0"/><circle cx="230.5" cy="108.6" r="2.9"/><circle cx="235.0" cy="109.0" r="3.3"/><circle cx="239.5" cy="108.6" r="3.0"/><circle cx="220.0" cy="113.2" r="3.3"/><circle cx="228.6" cy="112.5" r="2.9"/><circle cx="232.9" cy="113.3" r="3.3"/><circle cx="236.2" cy="113.0" r="3.2"/><circle cx="241.3" cy="112.9" r="2.9"/><circle cx="245.2" cy="113.3" r="3.2"/><circle cx="230.4" cy="116.5" r="2.9"/></g><circle cx="234.5" cy="71.0" r="2.4" fill="url(#gBlue)"/><circle cx="222.9" cy="74.2" r="2.1" fill="url(#gBlue)"/><circle cx="227.4" cy="74.8" r="2.5" fill="url(#gBlue)"/><circle cx="235.7" cy="75.3" r="2.1" fill="url(#gBlue)"/><circle cx="220.5" cy="77.8" r="2.2" fill="url(#gBlue)"/><circle cx="225.8" cy="79.1" r="2.3" fill="url(#gBlue)"/><circle cx="229.5" cy="78.8" r="2.5" fill="url(#gBlue)"/><circle cx="234.3" cy="78.7" r="2.1" fill="url(#gBlue)"/><circle cx="238.1" cy="78.4" r="2.1" fill="url(#gBlue)"/><circle cx="242.3" cy="78.0" r="2.1" fill="url(#gBlue)"/><circle cx="247.4" cy="78.7" r="2.2" fill="url(#gBlue)"/><circle cx="218.4" cy="82.5" r="2.5" fill="url(#gBlue)"/><circle cx="227.5" cy="82.4" r="2.0" fill="url(#gBlue)"/><circle cx="235.5" cy="81.9" r="2.1" fill="url(#gBlue)"/><circle cx="240.8" cy="81.8" r="2.0" fill="url(#gBlue)"/><circle cx="249.1" cy="82.1" r="2.4" fill="url(#gBlue)"/><circle cx="252.6" cy="81.8" r="2.1" fill="url(#gBlue)"/><circle cx="211.8" cy="85.6" r="2.5" fill="url(#gBlue)"/><circle cx="217.1" cy="85.9" r="2.1" fill="url(#gBlue)"/><circle cx="229.0" cy="85.3" r="2.5" fill="url(#gBlue)"/><circle cx="233.5" cy="86.2" r="2.3" fill="url(#gBlue)"/><circle cx="251.7" cy="85.3" r="2.4" fill="url(#gBlue)"/><circle cx="214.1" cy="90.2" r="2.5" fill="url(#gBlue)"/><circle cx="219.3" cy="89.5" r="2.3" fill="url(#gBlue)"/><circle cx="226.9" cy="89.5" r="2.4" fill="url(#gBlue)"/><circle cx="232.1" cy="89.4" r="2.4" fill="url(#gBlue)"/><circle cx="235.3" cy="90.1" r="2.2" fill="url(#gBlue)"/><circle cx="240.0" cy="89.9" r="2.0" fill="url(#gBlue)"/><circle cx="243.9" cy="89.1" r="2.5" fill="url(#gBlue)"/><circle cx="248.2" cy="89.6" r="2.1" fill="url(#gBlue)"/><circle cx="252.9" cy="89.1" r="2.1" fill="url(#gBlue)"/><circle cx="212.6" cy="93.0" r="2.5" fill="url(#gBlue)"/><circle cx="216.9" cy="93.7" r="2.4" fill="url(#gBlue)"/><circle cx="220.9" cy="92.8" r="2.5" fill="url(#gBlue)"/><circle cx="225.4" cy="92.8" r="2.4" fill="url(#gBlue)"/><circle cx="229.3" cy="93.3" r="2.1" fill="url(#gBlue)"/><circle cx="233.8" cy="93.2" r="2.0" fill="url(#gBlue)"/><circle cx="238.0" cy="92.8" r="2.2" fill="url(#gBlue)"/><circle cx="247.0" cy="94.0" r="2.2" fill="url(#gBlue)"/><circle cx="254.7" cy="94.0" r="2.0" fill="url(#gBlue)"/><circle cx="214.6" cy="97.3" r="2.4" fill="url(#gBlue)"/><circle cx="218.9" cy="97.1" r="2.3" fill="url(#gBlue)"/><circle cx="227.1" cy="97.4" r="2.2" fill="url(#gBlue)"/><circle cx="231.7" cy="97.4" r="2.0" fill="url(#gBlue)"/><circle cx="235.5" cy="97.2" r="2.3" fill="url(#gBlue)"/><circle cx="240.8" cy="97.0" r="2.3" fill="url(#gBlue)"/><circle cx="244.4" cy="97.0" r="2.3" fill="url(#gBlue)"/><circle cx="248.6" cy="97.7" r="2.3" fill="url(#gBlue)"/><circle cx="253.7" cy="97.7" r="2.5" fill="url(#gBlue)"/><circle cx="212.4" cy="100.7" r="2.3" fill="url(#gBlue)"/><circle cx="216.9" cy="100.1" r="2.4" fill="url(#gBlue)"/><circle cx="221.4" cy="100.8" r="2.0" fill="url(#gBlue)"/><circle cx="224.8" cy="101.3" r="2.5" fill="url(#gBlue)"/><circle cx="229.0" cy="100.6" r="2.0" fill="url(#gBlue)"/><circle cx="233.7" cy="101.2" r="2.1" fill="url(#gBlue)"/><circle cx="237.5" cy="101.4" r="2.3" fill="url(#gBlue)"/><circle cx="242.6" cy="100.5" r="2.3" fill="url(#gBlue)"/><circle cx="250.6" cy="100.8" r="2.4" fill="url(#gBlue)"/><circle cx="255.8" cy="101.2" r="2.0" fill="url(#gBlue)"/><circle cx="214.8" cy="104.3" r="2.2" fill="url(#gBlue)"/><circle cx="219.2" cy="104.5" r="2.0" fill="url(#gBlue)"/><circle cx="222.7" cy="104.2" r="2.0" fill="url(#gBlue)"/><circle cx="228.0" cy="104.3" r="2.1" fill="url(#gBlue)"/><circle cx="240.3" cy="104.7" r="2.0" fill="url(#gBlue)"/><circle cx="248.8" cy="104.7" r="2.4" fill="url(#gBlue)"/><circle cx="252.6" cy="104.9" r="2.3" fill="url(#gBlue)"/><circle cx="217.0" cy="108.9" r="2.1" fill="url(#gBlue)"/><circle cx="229.8" cy="107.7" r="2.0" fill="url(#gBlue)"/><circle cx="234.3" cy="108.1" r="2.4" fill="url(#gBlue)"/><circle cx="238.8" cy="107.7" r="2.1" fill="url(#gBlue)"/><circle cx="219.3" cy="112.3" r="2.4" fill="url(#gBlue)"/><circle cx="227.9" cy="111.6" r="2.0" fill="url(#gBlue)"/><circle cx="232.2" cy="112.4" r="2.4" fill="url(#gBlue)"/><circle cx="235.5" cy="112.1" r="2.3" fill="url(#gBlue)"/><circle cx="240.6" cy="112.0" r="2.0" fill="url(#gBlue)"/><circle cx="244.5" cy="112.4" r="2.3" fill="url(#gBlue)"/><circle cx="229.7" cy="115.6" r="2.0" fill="url(#gBlue)"/><circle cx="186.7" cy="52.6" r="2.6" fill="url(#gBlue)"/><circle cx="218.0" cy="62.0" r="2.4" fill="url(#gBlue)"/><circle cx="224.0" cy="69.3" r="2.6" fill="url(#gBlue)"/><circle cx="272.5" cy="74.5" r="2.3" fill="url(#gBlue)"/><circle cx="279.9" cy="81.8" r="2.2" fill="url(#gBlue)"/><circle cx="284.0" cy="109.0" r="2.3" fill="url(#gBlue)"/><circle cx="272.5" cy="111.0" r="2.2" fill="url(#gBlue)"/><circle cx="266.7" cy="113.2" r="2.0" fill="url(#gBlue)"/><circle cx="266.3" cy="124.7" r="2.2" fill="url(#gBlue)"/><circle cx="274.6" cy="132.0" r="2.0" fill="url(#gBlue)"/><circle cx="262.0" cy="106.0" r="2.8" fill="url(#gBlue)"/><circle cx="203.5" cy="119.0" r="2.0" fill="url(#gBlue)"/><circle cx="226.5" cy="122.7" r="2.0" fill="url(#gBlue)"/><circle cx="233.8" cy="126.8" r="2.0" fill="url(#gBlue)"/><circle cx="237.0" cy="130.4" r="2.0" fill="url(#gBlue)"/><circle cx="241.8" cy="130.0" r="2.0" fill="url(#gBlue)"/><circle cx="192.0" cy="131.7" r="2.2" fill="url(#gBlue)"/><circle cx="197.2" cy="137.9" r="2.2" fill="url(#gBlue)"/><circle cx="203.5" cy="144.6" r="2.3" fill="url(#gBlue)"/><circle cx="212.9" cy="141.5" r="2.0" fill="url(#gBlue)"/><circle cx="238.0" cy="144.6" r="2.8" fill="url(#gBlue)"/><circle cx="254.7" cy="137.3" r="2.0" fill="url(#gBlue)"/><circle cx="182.6" cy="157.2" r="2.6" fill="url(#gBlue)"/><circle cx="186.7" cy="156.0" r="2.6" fill="url(#gBlue)"/><circle cx="279.9" cy="149.9" r="2.0" fill="url(#gBlue)"/><circle cx="281.0" cy="72.0" r="2.0" fill="url(#gBlue)"/></g>
<g clip-path="url(#cb2)"><circle cx="60.1" cy="189.4" r="2.5" fill="url(#gBlue)"/><circle cx="161.1" cy="208.5" r="2.6" fill="url(#gBlue)"/><circle cx="145.0" cy="234.8" r="2.7" fill="url(#gBlue)"/><circle cx="135.7" cy="252.7" r="1.9" fill="url(#gBlue)"/><circle cx="57.2" cy="216.1" r="1.6" fill="url(#gBlue)"/><circle cx="110.3" cy="254.6" r="2.6" fill="url(#gBlue)"/><circle cx="49.7" cy="215.7" r="1.8" fill="url(#gBlue)"/><circle cx="157.1" cy="209.3" r="2.7" fill="url(#gBlue)"/><circle cx="128.6" cy="210.5" r="2.0" fill="url(#gBlue)"/><circle cx="89.2" cy="200.6" r="1.9" fill="url(#gBlue)"/><circle cx="121.8" cy="193.0" r="1.9" fill="url(#gBlue)"/><circle cx="46.3" cy="234.2" r="1.6" fill="url(#gBlue)"/><circle cx="71.4" cy="260.9" r="1.6" fill="url(#gBlue)"/><circle cx="135.9" cy="217.0" r="2.0" fill="url(#gBlue)"/><circle cx="152.1" cy="263.1" r="2.5" fill="url(#gBlue)"/><circle cx="76.4" cy="266.9" r="2.6" fill="url(#gBlue)"/><circle cx="73.1" cy="219.9" r="1.9" fill="url(#gBlue)"/><circle cx="137.8" cy="269.3" r="2.7" fill="url(#gBlue)"/><circle cx="149.8" cy="224.5" r="2.0" fill="url(#gBlue)"/><circle cx="108.0" cy="273.0" r="2.5" fill="url(#gBlue)"/><circle cx="66.6" cy="237.7" r="1.6" fill="url(#gBlue)"/><circle cx="145.1" cy="267.9" r="2.7" fill="url(#gBlue)"/><circle cx="59.3" cy="184.8" r="1.7" fill="url(#gBlue)"/><circle cx="84.6" cy="235.6" r="2.6" fill="url(#gBlue)"/><circle cx="92.6" cy="263.5" r="2.7" fill="url(#gBlue)"/><circle cx="62.8" cy="239.2" r="2.4" fill="url(#gBlue)"/><circle cx="73.4" cy="231.7" r="2.0" fill="url(#gBlue)"/><circle cx="125.9" cy="254.0" r="2.7" fill="url(#gBlue)"/><circle cx="154.6" cy="216.2" r="2.2" fill="url(#gBlue)"/><circle cx="127.7" cy="204.5" r="2.5" fill="url(#gBlue)"/><circle cx="112.9" cy="176.9" r="2.3" fill="url(#gBlue)"/><circle cx="106.1" cy="196.1" r="2.4" fill="url(#gBlue)"/><circle cx="95.7" cy="266.0" r="2.5" fill="url(#gBlue)"/><circle cx="92.7" cy="201.9" r="2.7" fill="url(#gBlue)"/><circle cx="75.1" cy="192.2" r="1.6" fill="url(#gBlue)"/><circle cx="77.0" cy="220.6" r="2.4" fill="url(#gBlue)"/><circle cx="64.1" cy="180.0" r="2.0" fill="url(#gBlue)"/><circle cx="66.4" cy="184.8" r="2.5" fill="url(#gBlue)"/><circle cx="61.9" cy="280.3" r="2.6" fill="url(#gBlue)"/><circle cx="147.3" cy="217.0" r="2.2" fill="url(#gBlue)"/><circle cx="139.6" cy="283.3" r="2.7" fill="url(#gBlue)"/><circle cx="47.5" cy="235.3" r="2.4" fill="url(#gBlue)"/><circle cx="113.3" cy="184.5" r="2.3" fill="url(#gBlue)"/><circle cx="58.3" cy="250.4" r="2.5" fill="url(#gBlue)"/><circle cx="65.2" cy="187.3" r="1.6" fill="url(#gBlue)"/><circle cx="125.5" cy="258.6" r="2.3" fill="url(#gBlue)"/><circle cx="114.9" cy="278.2" r="2.3" fill="url(#gBlue)"/><circle cx="144.6" cy="237.9" r="1.8" fill="url(#gBlue)"/><g fill="#041c2a" opacity="0.8"><circle cx="97.4" cy="213.7" r="3.2"/><circle cx="110.2" cy="213.6" r="3.0"/><circle cx="95.6" cy="217.6" r="3.3"/><circle cx="99.4" cy="216.7" r="3.2"/><circle cx="104.2" cy="216.9" r="2.9"/><circle cx="117.0" cy="216.6" r="3.3"/><circle cx="124.7" cy="217.7" r="2.9"/><circle cx="128.6" cy="216.8" r="3.0"/><circle cx="97.3" cy="221.5" r="2.9"/><circle cx="101.4" cy="220.2" r="3.1"/><circle cx="105.6" cy="220.2" r="2.9"/><circle cx="110.9" cy="220.3" r="3.2"/><circle cx="114.2" cy="221.5" r="2.9"/><circle cx="118.3" cy="220.2" r="2.9"/><circle cx="123.0" cy="221.3" r="2.8"/><circle cx="126.3" cy="220.5" r="2.9"/><circle cx="131.2" cy="220.3" r="3.1"/><circle cx="99.9" cy="223.8" r="3.3"/><circle cx="104.6" cy="225.0" r="3.1"/><circle cx="112.5" cy="224.6" r="3.3"/><circle cx="119.8" cy="224.9" r="3.3"/><circle cx="124.8" cy="223.8" r="3.1"/><circle cx="93.1" cy="228.4" r="3.2"/><circle cx="98.3" cy="228.4" r="3.3"/><circle cx="101.6" cy="228.2" r="3.3"/><circle cx="109.5" cy="228.0" r="3.1"/><circle cx="126.3" cy="227.5" r="3.3"/><circle cx="92.3" cy="231.5" r="3.2"/><circle cx="95.2" cy="232.0" r="2.9"/><circle cx="103.6" cy="232.0" r="2.9"/><circle cx="108.1" cy="231.2" r="3.2"/><circle cx="132.7" cy="232.0" r="3.2"/><circle cx="94.0" cy="234.9" r="3.2"/><circle cx="97.7" cy="235.2" r="2.8"/><circle cx="101.5" cy="235.4" r="3.3"/><circle cx="105.9" cy="235.1" r="3.1"/><circle cx="126.1" cy="235.1" r="3.1"/><circle cx="108.4" cy="238.3" r="2.9"/><circle cx="120.1" cy="238.4" r="2.9"/><circle cx="98.5" cy="242.3" r="2.8"/><circle cx="106.6" cy="242.5" r="2.9"/><circle cx="109.9" cy="242.7" r="3.2"/><circle cx="118.1" cy="242.2" r="2.8"/><circle cx="121.8" cy="241.9" r="2.8"/><circle cx="104.1" cy="245.7" r="3.2"/><circle cx="108.1" cy="245.1" r="3.3"/><circle cx="116.9" cy="245.4" r="3.0"/><circle cx="119.8" cy="246.2" r="2.9"/><circle cx="110.7" cy="249.3" r="3.3"/></g><circle cx="96.7" cy="212.8" r="2.3" fill="url(#gBlueD)"/><circle cx="109.5" cy="212.7" r="2.1" fill="url(#gBlueD)"/><circle cx="94.9" cy="216.7" r="2.4" fill="url(#gBlueD)"/><circle cx="98.7" cy="215.8" r="2.3" fill="url(#gBlueD)"/><circle cx="103.5" cy="216.0" r="2.0" fill="url(#gBlueD)"/><circle cx="116.3" cy="215.7" r="2.4" fill="url(#gBlueD)"/><circle cx="124.0" cy="216.8" r="2.0" fill="url(#gBlueD)"/><circle cx="127.9" cy="215.9" r="2.1" fill="url(#gBlueD)"/><circle cx="96.6" cy="220.6" r="2.0" fill="url(#gBlueD)"/><circle cx="100.7" cy="219.3" r="2.2" fill="url(#gBlueD)"/><circle cx="104.9" cy="219.3" r="2.0" fill="url(#gBlueD)"/><circle cx="110.2" cy="219.4" r="2.3" fill="url(#gBlueD)"/><circle cx="113.5" cy="220.6" r="2.0" fill="url(#gBlueD)"/><circle cx="117.6" cy="219.3" r="2.0" fill="url(#gBlueD)"/><circle cx="122.3" cy="220.4" r="1.9" fill="url(#gBlueD)"/><circle cx="125.6" cy="219.6" r="2.0" fill="url(#gBlueD)"/><circle cx="130.5" cy="219.4" r="2.2" fill="url(#gBlueD)"/><circle cx="99.2" cy="222.9" r="2.4" fill="url(#gBlueD)"/><circle cx="103.9" cy="224.1" r="2.2" fill="url(#gBlueD)"/><circle cx="111.8" cy="223.7" r="2.4" fill="url(#gBlueD)"/><circle cx="119.1" cy="224.0" r="2.4" fill="url(#gBlueD)"/><circle cx="124.1" cy="222.9" r="2.2" fill="url(#gBlueD)"/><circle cx="92.4" cy="227.5" r="2.3" fill="url(#gBlueD)"/><circle cx="97.6" cy="227.5" r="2.4" fill="url(#gBlueD)"/><circle cx="100.9" cy="227.3" r="2.4" fill="url(#gBlueD)"/><circle cx="108.8" cy="227.1" r="2.2" fill="url(#gBlueD)"/><circle cx="125.6" cy="226.6" r="2.4" fill="url(#gBlueD)"/><circle cx="91.6" cy="230.6" r="2.3" fill="url(#gBlueD)"/><circle cx="94.5" cy="231.1" r="2.0" fill="url(#gBlueD)"/><circle cx="102.9" cy="231.1" r="2.0" fill="url(#gBlueD)"/><circle cx="107.4" cy="230.3" r="2.3" fill="url(#gBlueD)"/><circle cx="132.0" cy="231.1" r="2.3" fill="url(#gBlueD)"/><circle cx="93.3" cy="234.0" r="2.3" fill="url(#gBlueD)"/><circle cx="97.0" cy="234.3" r="1.9" fill="url(#gBlueD)"/><circle cx="100.8" cy="234.5" r="2.4" fill="url(#gBlueD)"/><circle cx="105.2" cy="234.2" r="2.2" fill="url(#gBlueD)"/><circle cx="125.4" cy="234.2" r="2.2" fill="url(#gBlueD)"/><circle cx="107.7" cy="237.4" r="2.0" fill="url(#gBlueD)"/><circle cx="119.4" cy="237.5" r="2.0" fill="url(#gBlueD)"/><circle cx="97.8" cy="241.4" r="1.9" fill="url(#gBlueD)"/><circle cx="105.9" cy="241.6" r="2.0" fill="url(#gBlueD)"/><circle cx="109.2" cy="241.8" r="2.3" fill="url(#gBlueD)"/><circle cx="117.4" cy="241.3" r="1.9" fill="url(#gBlueD)"/><circle cx="121.1" cy="241.0" r="1.9" fill="url(#gBlueD)"/><circle cx="103.4" cy="244.8" r="2.3" fill="url(#gBlueD)"/><circle cx="107.4" cy="244.2" r="2.4" fill="url(#gBlueD)"/><circle cx="116.2" cy="244.5" r="2.1" fill="url(#gBlueD)"/><circle cx="119.1" cy="245.3" r="2.0" fill="url(#gBlueD)"/><circle cx="110.0" cy="248.4" r="2.4" fill="url(#gBlueD)"/><g fill="#041c2a" opacity="0.8"><circle cx="100.1" cy="212.1" r="2.8"/><circle cx="104.0" cy="211.5" r="3.2"/><circle cx="108.6" cy="211.7" r="3.1"/><circle cx="116.7" cy="212.5" r="3.1"/><circle cx="105.5" cy="216.2" r="2.8"/><circle cx="109.8" cy="216.1" r="3.3"/><circle cx="114.3" cy="215.0" r="3.0"/><circle cx="119.1" cy="215.0" r="3.2"/><circle cx="122.0" cy="216.2" r="3.1"/><circle cx="126.8" cy="216.1" r="2.9"/><circle cx="100.6" cy="219.2" r="3.3"/><circle cx="111.6" cy="219.6" r="3.1"/><circle cx="116.8" cy="218.5" r="2.8"/><circle cx="120.4" cy="219.1" r="3.0"/><circle cx="101.6" cy="221.9" r="3.2"/><circle cx="106.4" cy="223.2" r="2.8"/><circle cx="122.8" cy="222.5" r="2.9"/><circle cx="126.7" cy="223.2" r="3.3"/><circle cx="130.7" cy="222.2" r="3.1"/><circle cx="92.1" cy="225.5" r="2.8"/><circle cx="95.2" cy="225.7" r="3.0"/><circle cx="99.7" cy="226.3" r="3.0"/><circle cx="121.1" cy="225.7" r="3.1"/><circle cx="93.4" cy="229.7" r="3.2"/><circle cx="98.5" cy="230.2" r="3.0"/><circle cx="110.1" cy="230.3" r="3.3"/><circle cx="122.5" cy="229.6" r="3.1"/><circle cx="126.8" cy="229.9" r="3.1"/><circle cx="95.5" cy="233.4" r="3.1"/><circle cx="99.3" cy="233.9" r="3.2"/><circle cx="104.1" cy="233.1" r="3.0"/><circle cx="112.4" cy="232.8" r="3.1"/><circle cx="116.5" cy="233.4" r="3.1"/><circle cx="120.8" cy="233.9" r="3.0"/><circle cx="124.3" cy="233.0" r="2.9"/><circle cx="128.2" cy="233.2" r="3.0"/><circle cx="94.3" cy="236.4" r="3.3"/><circle cx="101.3" cy="237.0" r="2.9"/><circle cx="105.7" cy="237.5" r="2.9"/><circle cx="110.1" cy="237.1" r="2.8"/><circle cx="114.7" cy="236.2" r="2.8"/><circle cx="122.6" cy="237.5" r="3.0"/><circle cx="126.9" cy="236.1" r="3.2"/><circle cx="99.3" cy="240.1" r="3.0"/><circle cx="112.1" cy="240.9" r="3.3"/><circle cx="120.7" cy="240.3" r="3.3"/><circle cx="128.3" cy="240.1" r="3.1"/><circle cx="101.5" cy="244.4" r="3.2"/><circle cx="109.9" cy="243.4" r="2.9"/><circle cx="114.6" cy="244.0" r="3.3"/><circle cx="123.1" cy="244.2" r="3.2"/><circle cx="104.6" cy="247.2" r="3.2"/><circle cx="112.4" cy="247.1" r="2.8"/></g><circle cx="99.4" cy="211.2" r="1.9" fill="url(#gBlue)"/><circle cx="103.3" cy="210.6" r="2.3" fill="url(#gBlue)"/><circle cx="107.9" cy="210.8" r="2.2" fill="url(#gBlue)"/><circle cx="116.0" cy="211.6" r="2.2" fill="url(#gBlue)"/><circle cx="104.8" cy="215.3" r="1.9" fill="url(#gBlue)"/><circle cx="109.1" cy="215.2" r="2.4" fill="url(#gBlue)"/><circle cx="113.6" cy="214.1" r="2.1" fill="url(#gBlue)"/><circle cx="118.4" cy="214.1" r="2.3" fill="url(#gBlue)"/><circle cx="121.3" cy="215.3" r="2.2" fill="url(#gBlue)"/><circle cx="126.1" cy="215.2" r="2.0" fill="url(#gBlue)"/><circle cx="99.9" cy="218.3" r="2.4" fill="url(#gBlue)"/><circle cx="110.9" cy="218.7" r="2.2" fill="url(#gBlue)"/><circle cx="116.1" cy="217.6" r="1.9" fill="url(#gBlue)"/><circle cx="119.7" cy="218.2" r="2.1" fill="url(#gBlue)"/><circle cx="100.9" cy="221.0" r="2.3" fill="url(#gBlue)"/><circle cx="105.7" cy="222.3" r="1.9" fill="url(#gBlue)"/><circle cx="122.1" cy="221.6" r="2.0" fill="url(#gBlue)"/><circle cx="126.0" cy="222.3" r="2.4" fill="url(#gBlue)"/><circle cx="130.0" cy="221.3" r="2.2" fill="url(#gBlue)"/><circle cx="91.4" cy="224.6" r="1.9" fill="url(#gBlue)"/><circle cx="94.5" cy="224.8" r="2.1" fill="url(#gBlue)"/><circle cx="99.0" cy="225.4" r="2.1" fill="url(#gBlue)"/><circle cx="120.4" cy="224.8" r="2.2" fill="url(#gBlue)"/><circle cx="92.7" cy="228.8" r="2.3" fill="url(#gBlue)"/><circle cx="97.8" cy="229.3" r="2.1" fill="url(#gBlue)"/><circle cx="109.4" cy="229.4" r="2.4" fill="url(#gBlue)"/><circle cx="121.8" cy="228.7" r="2.2" fill="url(#gBlue)"/><circle cx="126.1" cy="229.0" r="2.2" fill="url(#gBlue)"/><circle cx="94.8" cy="232.5" r="2.2" fill="url(#gBlue)"/><circle cx="98.6" cy="233.0" r="2.3" fill="url(#gBlue)"/><circle cx="103.4" cy="232.2" r="2.1" fill="url(#gBlue)"/><circle cx="111.7" cy="231.9" r="2.2" fill="url(#gBlue)"/><circle cx="115.8" cy="232.5" r="2.2" fill="url(#gBlue)"/><circle cx="120.1" cy="233.0" r="2.1" fill="url(#gBlue)"/><circle cx="123.6" cy="232.1" r="2.0" fill="url(#gBlue)"/><circle cx="127.5" cy="232.3" r="2.1" fill="url(#gBlue)"/><circle cx="93.6" cy="235.5" r="2.4" fill="url(#gBlue)"/><circle cx="100.6" cy="236.1" r="2.0" fill="url(#gBlue)"/><circle cx="105.0" cy="236.6" r="2.0" fill="url(#gBlue)"/><circle cx="109.4" cy="236.2" r="1.9" fill="url(#gBlue)"/><circle cx="114.0" cy="235.3" r="1.9" fill="url(#gBlue)"/><circle cx="121.9" cy="236.6" r="2.1" fill="url(#gBlue)"/><circle cx="126.2" cy="235.2" r="2.3" fill="url(#gBlue)"/><circle cx="98.6" cy="239.2" r="2.1" fill="url(#gBlue)"/><circle cx="111.4" cy="240.0" r="2.4" fill="url(#gBlue)"/><circle cx="120.0" cy="239.4" r="2.4" fill="url(#gBlue)"/><circle cx="127.6" cy="239.2" r="2.2" fill="url(#gBlue)"/><circle cx="100.8" cy="243.5" r="2.3" fill="url(#gBlue)"/><circle cx="109.2" cy="242.5" r="2.0" fill="url(#gBlue)"/><circle cx="113.9" cy="243.1" r="2.4" fill="url(#gBlue)"/><circle cx="122.4" cy="243.3" r="2.3" fill="url(#gBlue)"/><circle cx="103.9" cy="246.3" r="2.3" fill="url(#gBlue)"/><circle cx="111.7" cy="246.2" r="1.9" fill="url(#gBlue)"/></g>
<g clip-path="url(#cb3)"><circle cx="222.6" cy="254.7" r="2.5" fill="url(#gBlue)"/><circle cx="288.9" cy="257.6" r="2.8" fill="url(#gBlue)"/><circle cx="266.9" cy="254.0" r="2.5" fill="url(#gBlue)"/><circle cx="229.5" cy="256.2" r="1.9" fill="url(#gBlue)"/><circle cx="201.5" cy="189.4" r="2.4" fill="url(#gBlue)"/><circle cx="256.3" cy="235.0" r="2.0" fill="url(#gBlue)"/><circle cx="211.5" cy="178.0" r="2.1" fill="url(#gBlue)"/><circle cx="182.7" cy="198.6" r="2.1" fill="url(#gBlue)"/><circle cx="231.3" cy="185.3" r="3.0" fill="url(#gBlue)"/><circle cx="282.0" cy="264.7" r="2.7" fill="url(#gBlue)"/><circle cx="276.4" cy="277.4" r="1.8" fill="url(#gBlue)"/><circle cx="174.1" cy="189.6" r="2.3" fill="url(#gBlue)"/><circle cx="258.2" cy="189.6" r="2.2" fill="url(#gBlue)"/><circle cx="203.3" cy="235.5" r="1.9" fill="url(#gBlue)"/><circle cx="267.6" cy="256.6" r="2.2" fill="url(#gBlue)"/><circle cx="253.9" cy="212.5" r="2.3" fill="url(#gBlue)"/><circle cx="226.8" cy="281.2" r="2.2" fill="url(#gBlue)"/><circle cx="258.6" cy="254.4" r="2.0" fill="url(#gBlue)"/><circle cx="199.1" cy="206.4" r="1.7" fill="url(#gBlue)"/><circle cx="188.8" cy="252.4" r="2.4" fill="url(#gBlue)"/><circle cx="191.8" cy="261.0" r="1.9" fill="url(#gBlue)"/><circle cx="273.7" cy="242.7" r="1.9" fill="url(#gBlue)"/><circle cx="270.7" cy="228.0" r="1.9" fill="url(#gBlue)"/><circle cx="293.9" cy="176.9" r="1.9" fill="url(#gBlue)"/><circle cx="236.7" cy="276.2" r="2.2" fill="url(#gBlue)"/><circle cx="280.1" cy="256.6" r="2.1" fill="url(#gBlue)"/><circle cx="253.9" cy="200.7" r="1.8" fill="url(#gBlue)"/><circle cx="281.5" cy="280.0" r="1.8" fill="url(#gBlue)"/><circle cx="233.6" cy="277.8" r="1.9" fill="url(#gBlue)"/><circle cx="246.9" cy="182.1" r="2.0" fill="url(#gBlue)"/><circle cx="283.8" cy="235.4" r="2.1" fill="url(#gBlue)"/><circle cx="210.5" cy="255.7" r="2.0" fill="url(#gBlue)"/><circle cx="250.4" cy="261.3" r="2.5" fill="url(#gBlue)"/><circle cx="245.0" cy="207.1" r="2.6" fill="url(#gBlue)"/><circle cx="294.9" cy="218.7" r="2.2" fill="url(#gBlue)"/><circle cx="252.1" cy="251.8" r="1.9" fill="url(#gBlue)"/><circle cx="194.3" cy="281.2" r="1.9" fill="url(#gBlue)"/><circle cx="195.7" cy="176.4" r="2.9" fill="url(#gBlue)"/><circle cx="255.9" cy="196.1" r="2.0" fill="url(#gBlue)"/><circle cx="226.0" cy="265.3" r="2.5" fill="url(#gBlue)"/><circle cx="233.9" cy="282.3" r="1.9" fill="url(#gBlue)"/><circle cx="283.3" cy="201.9" r="2.3" fill="url(#gBlue)"/><circle cx="203.2" cy="240.2" r="1.7" fill="url(#gBlue)"/><circle cx="248.4" cy="197.4" r="2.3" fill="url(#gBlue)"/><circle cx="205.3" cy="284.0" r="2.4" fill="url(#gBlue)"/><circle cx="243.4" cy="203.8" r="2.4" fill="url(#gBlue)"/><circle cx="237.9" cy="270.0" r="2.7" fill="url(#gBlue)"/><circle cx="215.1" cy="174.4" r="2.4" fill="url(#gBlue)"/><circle cx="279.6" cy="213.6" r="2.4" fill="url(#gBlue)"/><circle cx="256.8" cy="248.2" r="2.3" fill="url(#gBlue)"/><g fill="#041c2a" opacity="0.8"><circle cx="220.8" cy="205.2" r="2.9"/><circle cx="225.8" cy="205.2" r="3.1"/><circle cx="232.7" cy="209.5" r="3.0"/><circle cx="211.6" cy="212.3" r="3.2"/><circle cx="215.5" cy="213.2" r="3.0"/><circle cx="221.4" cy="213.0" r="3.0"/><circle cx="234.5" cy="213.5" r="3.3"/><circle cx="209.6" cy="216.7" r="3.2"/><circle cx="218.0" cy="216.2" r="3.1"/><circle cx="228.3" cy="216.5" r="3.3"/><circle cx="236.9" cy="216.3" r="2.9"/><circle cx="246.8" cy="217.4" r="2.9"/><circle cx="212.2" cy="220.5" r="3.0"/><circle cx="220.3" cy="221.1" r="3.3"/><circle cx="225.9" cy="220.2" r="3.3"/><circle cx="238.6" cy="220.6" r="3.1"/><circle cx="228.0" cy="225.2" r="3.3"/><circle cx="245.8" cy="225.4" r="2.9"/><circle cx="216.4" cy="228.8" r="2.9"/><circle cx="239.2" cy="228.2" r="3.1"/><circle cx="243.1" cy="228.8" r="2.9"/><circle cx="213.8" cy="232.3" r="2.9"/><circle cx="222.7" cy="232.5" r="3.0"/><circle cx="245.9" cy="232.1" r="2.8"/><circle cx="225.7" cy="237.3" r="3.1"/><circle cx="243.5" cy="236.7" r="3.2"/><circle cx="222.5" cy="240.9" r="3.0"/><circle cx="227.2" cy="241.4" r="3.3"/></g><circle cx="220.1" cy="204.3" r="2.0" fill="url(#gBlueD)"/><circle cx="225.1" cy="204.3" r="2.2" fill="url(#gBlueD)"/><circle cx="232.0" cy="208.6" r="2.1" fill="url(#gBlueD)"/><circle cx="210.9" cy="211.4" r="2.3" fill="url(#gBlueD)"/><circle cx="214.8" cy="212.3" r="2.1" fill="url(#gBlueD)"/><circle cx="220.7" cy="212.1" r="2.1" fill="url(#gBlueD)"/><circle cx="233.8" cy="212.6" r="2.4" fill="url(#gBlueD)"/><circle cx="208.9" cy="215.8" r="2.3" fill="url(#gBlueD)"/><circle cx="217.3" cy="215.3" r="2.2" fill="url(#gBlueD)"/><circle cx="227.6" cy="215.6" r="2.4" fill="url(#gBlueD)"/><circle cx="236.2" cy="215.4" r="2.0" fill="url(#gBlueD)"/><circle cx="246.1" cy="216.5" r="2.0" fill="url(#gBlueD)"/><circle cx="211.5" cy="219.6" r="2.1" fill="url(#gBlueD)"/><circle cx="219.6" cy="220.2" r="2.4" fill="url(#gBlueD)"/><circle cx="225.2" cy="219.3" r="2.4" fill="url(#gBlueD)"/><circle cx="237.9" cy="219.7" r="2.2" fill="url(#gBlueD)"/><circle cx="227.3" cy="224.3" r="2.4" fill="url(#gBlueD)"/><circle cx="245.1" cy="224.5" r="2.0" fill="url(#gBlueD)"/><circle cx="215.7" cy="227.9" r="2.0" fill="url(#gBlueD)"/><circle cx="238.5" cy="227.3" r="2.2" fill="url(#gBlueD)"/><circle cx="242.4" cy="227.9" r="2.0" fill="url(#gBlueD)"/><circle cx="213.1" cy="231.4" r="2.0" fill="url(#gBlueD)"/><circle cx="222.0" cy="231.6" r="2.1" fill="url(#gBlueD)"/><circle cx="245.2" cy="231.2" r="1.9" fill="url(#gBlueD)"/><circle cx="225.0" cy="236.4" r="2.2" fill="url(#gBlueD)"/><circle cx="242.8" cy="235.8" r="2.3" fill="url(#gBlueD)"/><circle cx="221.8" cy="240.0" r="2.1" fill="url(#gBlueD)"/><circle cx="226.5" cy="240.5" r="2.4" fill="url(#gBlueD)"/><g fill="#041c2a" opacity="0.8"><circle cx="225.8" cy="206.9" r="3.3"/><circle cx="210.0" cy="211.1" r="2.9"/><circle cx="214.2" cy="211.5" r="2.9"/><circle cx="237.5" cy="210.6" r="3.3"/><circle cx="206.8" cy="215.0" r="3.0"/><circle cx="216.2" cy="214.7" r="3.1"/><circle cx="221.3" cy="214.3" r="2.8"/><circle cx="230.0" cy="214.2" r="3.2"/><circle cx="213.2" cy="219.4" r="3.1"/><circle cx="218.0" cy="218.2" r="2.9"/><circle cx="222.8" cy="218.4" r="3.2"/><circle cx="228.0" cy="219.4" r="3.2"/><circle cx="236.7" cy="218.4" r="3.3"/><circle cx="245.9" cy="219.1" r="3.1"/><circle cx="207.2" cy="223.0" r="3.3"/><circle cx="220.5" cy="222.7" r="3.3"/><circle cx="225.5" cy="223.4" r="2.9"/><circle cx="234.6" cy="222.2" r="3.0"/><circle cx="239.2" cy="222.4" r="2.8"/><circle cx="243.5" cy="222.6" r="3.1"/><circle cx="205.0" cy="226.5" r="3.3"/><circle cx="208.9" cy="226.1" r="3.1"/><circle cx="222.6" cy="227.2" r="2.8"/><circle cx="227.6" cy="226.8" r="2.9"/><circle cx="231.8" cy="226.3" r="2.8"/><circle cx="236.5" cy="226.6" r="3.2"/><circle cx="241.7" cy="226.8" r="3.1"/><circle cx="245.7" cy="226.3" r="2.8"/><circle cx="229.8" cy="230.8" r="3.3"/><circle cx="239.0" cy="231.4" r="3.1"/><circle cx="243.5" cy="230.9" r="2.8"/><circle cx="209.3" cy="234.5" r="2.8"/><circle cx="214.4" cy="234.9" r="3.1"/><circle cx="223.1" cy="234.6" r="3.3"/><circle cx="211.8" cy="238.6" r="3.0"/><circle cx="225.4" cy="239.4" r="2.9"/><circle cx="230.7" cy="238.2" r="2.9"/><circle cx="235.3" cy="238.6" r="3.0"/><circle cx="223.6" cy="242.1" r="3.1"/><circle cx="227.3" cy="243.4" r="3.0"/><circle cx="232.1" cy="243.0" r="3.2"/></g><circle cx="225.1" cy="206.0" r="2.4" fill="url(#gBlue)"/><circle cx="209.3" cy="210.2" r="2.0" fill="url(#gBlue)"/><circle cx="213.5" cy="210.6" r="2.0" fill="url(#gBlue)"/><circle cx="236.8" cy="209.7" r="2.4" fill="url(#gBlue)"/><circle cx="206.1" cy="214.1" r="2.1" fill="url(#gBlue)"/><circle cx="215.5" cy="213.8" r="2.2" fill="url(#gBlue)"/><circle cx="220.6" cy="213.4" r="1.9" fill="url(#gBlue)"/><circle cx="229.3" cy="213.3" r="2.3" fill="url(#gBlue)"/><circle cx="212.5" cy="218.5" r="2.2" fill="url(#gBlue)"/><circle cx="217.3" cy="217.3" r="2.0" fill="url(#gBlue)"/><circle cx="222.1" cy="217.5" r="2.3" fill="url(#gBlue)"/><circle cx="227.3" cy="218.5" r="2.3" fill="url(#gBlue)"/><circle cx="236.0" cy="217.5" r="2.4" fill="url(#gBlue)"/><circle cx="245.2" cy="218.2" r="2.2" fill="url(#gBlue)"/><circle cx="206.5" cy="222.1" r="2.4" fill="url(#gBlue)"/><circle cx="219.8" cy="221.8" r="2.4" fill="url(#gBlue)"/><circle cx="224.8" cy="222.5" r="2.0" fill="url(#gBlue)"/><circle cx="233.9" cy="221.3" r="2.1" fill="url(#gBlue)"/><circle cx="238.5" cy="221.5" r="1.9" fill="url(#gBlue)"/><circle cx="242.8" cy="221.7" r="2.2" fill="url(#gBlue)"/><circle cx="204.3" cy="225.6" r="2.4" fill="url(#gBlue)"/><circle cx="208.2" cy="225.2" r="2.2" fill="url(#gBlue)"/><circle cx="221.9" cy="226.3" r="1.9" fill="url(#gBlue)"/><circle cx="226.9" cy="225.9" r="2.0" fill="url(#gBlue)"/><circle cx="231.1" cy="225.4" r="1.9" fill="url(#gBlue)"/><circle cx="235.8" cy="225.7" r="2.3" fill="url(#gBlue)"/><circle cx="241.0" cy="225.9" r="2.2" fill="url(#gBlue)"/><circle cx="245.0" cy="225.4" r="1.9" fill="url(#gBlue)"/><circle cx="229.1" cy="229.9" r="2.4" fill="url(#gBlue)"/><circle cx="238.3" cy="230.5" r="2.2" fill="url(#gBlue)"/><circle cx="242.8" cy="230.0" r="1.9" fill="url(#gBlue)"/><circle cx="208.6" cy="233.6" r="1.9" fill="url(#gBlue)"/><circle cx="213.7" cy="234.0" r="2.2" fill="url(#gBlue)"/><circle cx="222.4" cy="233.7" r="2.4" fill="url(#gBlue)"/><circle cx="211.1" cy="237.7" r="2.1" fill="url(#gBlue)"/><circle cx="224.7" cy="238.5" r="2.0" fill="url(#gBlue)"/><circle cx="230.0" cy="237.3" r="2.0" fill="url(#gBlue)"/><circle cx="234.6" cy="237.7" r="2.1" fill="url(#gBlue)"/><circle cx="222.9" cy="241.2" r="2.2" fill="url(#gBlue)"/><circle cx="226.6" cy="242.5" r="2.1" fill="url(#gBlue)"/><circle cx="231.4" cy="242.1" r="2.3" fill="url(#gBlue)"/></g>
<rect x="37.5" y="42" width="132.5" height="121.30000000000001" fill="none" stroke="#111" stroke-width="1.6"/>
<rect x="170" y="42" width="134.5" height="121.30000000000001" fill="none" stroke="#111" stroke-width="1.6"/>
<rect x="37.5" y="166.5" width="132.5" height="121.0" fill="none" stroke="#111" stroke-width="1.6"/>
<rect x="170" y="166.5" width="134.5" height="121.0" fill="none" stroke="#111" stroke-width="1.6"/>
<text x="165.6" y="155.8" font-size="19.4" text-anchor="end" font-weight="bold" fill="#000" >0 ns</text>
<text x="302" y="155.5" font-size="19.4" text-anchor="end" font-weight="bold" fill="#000" >2.5 ns</text>
<text x="165.5" y="282.4" font-size="19.4" text-anchor="end" font-weight="bold" fill="#000" >5 ns</text>
<text x="296.6" y="281.2" font-size="19.4" text-anchor="end" font-weight="bold" fill="#000" >10 ns</text>
<text x="352.4" y="18.7" font-size="24.5" text-anchor="start" font-weight="normal" fill="#000" >b</text>
<rect x="486.5" y="40" width="60.299999999999955" height="222.7" fill="#c6d9f1"/>
<path d="M434.7,69.5 L438.5,75.9 L442.4,70.5 L445.7,75.9 L449.6,69.1 L453.4,74.3 L456.9,70.5 L460.2,75.3 L464.0,69.1 L467.5,75.9 L471.0,71.0 L474.9,76.8 L478.2,79.2 L481.6,78.8 L484.9,85.9 L488.8,89.8 L492.7,101.4 L496.5,105.6 L500.0,116.5 L503.3,121.7 L507.2,133.3 L510.6,135.8 L514.3,147.8 L517.8,149.7 L521.7,162.7 L525.5,165.2 L529.0,166.2 L532.5,169.6 L536.0,165.0 L539.5,167.4 L543.3,156.4 L546.6,156.7 L550.1,141.9 L554.0,139.0 L557.4,124.5 L561.3,120.3 L565.0,108.1 L568.4,104.2 L571.9,99.8 L575.8,88.2 L579.4,87.4 L582.3,80.1 L586.4,79.7 L590.1,73.0 L593.9,75.3 L597.8,72.0 L601.3,75.3 L604.5,70.8 L608.0,76.6 L612.3,77.8" fill="none" stroke="#377fc0" stroke-width="1.9" stroke-linejoin="round"/>
<path d="M433.1,257.8 L435.5,257.9 L438.8,258.1 L442.7,258.2 L446.9,258.4 L450.9,258.5 L454.5,258.6 L457.8,258.6 L461.0,258.5 L464.1,258.5 L467.0,258.3 L469.7,258.2 L472.0,258.0 L473.9,257.8 L475.4,257.6 L476.7,257.4 L477.8,257.1 L478.9,256.8 L480.0,256.4 L481.2,255.9 L482.3,255.4 L483.5,254.8 L484.6,254.1 L485.6,253.4 L486.7,252.6 L487.8,251.7 L488.8,250.7 L489.8,249.7 L490.9,248.7 L491.9,247.6 L492.9,246.7 L493.9,245.8 L494.9,245.0 L495.9,244.2 L496.9,243.4 L497.9,242.7 L499.0,242.0 L500.1,241.3 L501.3,240.6 L502.5,240.0 L503.6,239.4 L504.8,238.8 L505.8,238.3 L506.7,237.9 L507.5,237.7 L508.3,237.4 L509.1,237.2 L509.9,236.9 L510.9,236.4 L512.0,235.7 L513.3,234.9 L514.6,233.9 L516.0,232.9 L517.4,232.0 L518.7,231.2 L520.0,230.5 L521.3,229.8 L522.6,229.1 L523.8,228.5 L525.1,228.0 L526.4,227.6 L527.7,227.4 L529.0,227.2 L530.3,227.2 L531.6,227.2 L532.9,227.3 L534.1,227.4 L535.3,227.5 L536.4,227.6 L537.4,227.8 L538.5,228.0 L539.5,228.3 L540.6,228.7 L541.7,229.2 L542.7,229.7 L543.7,230.3 L544.8,230.9 L545.9,231.7 L547.0,232.5 L548.2,233.5 L549.5,234.5 L550.8,235.7 L552.1,236.9 L553.4,238.0 L554.7,239.0 L555.9,239.8 L556.9,240.6 L558.0,241.2 L559.1,241.9 L560.3,242.6 L561.8,243.5 L563.6,244.5 L565.5,245.6 L567.6,246.8 L569.8,248.0 L572.0,249.1 L574.1,250.2 L576.1,251.2 L578.2,252.2 L580.2,253.2 L582.2,254.1 L584.3,255.0 L586.3,255.7 L588.3,256.3 L590.4,256.9 L592.4,257.3 L594.5,257.7 L596.5,258.0 L598.6,258.2 L600.8,258.3 L603.2,258.2 L605.5,258.0 L607.7,257.8 L609.6,257.6 L610.9,257.5" fill="none" stroke="#bdb1dc" stroke-width="1.8"/>
<rect x="411.2" y="40" width="221.8" height="222.7" fill="none" stroke="#000" stroke-width="1.8"/>
<path d="M411.2,40.0h5 M411.2,81.7h5 M411.2,123.4h5 M411.2,165.1h5 M411.2,60.8h3 M411.2,102.5h3 M411.2,144.2h3 M411.2,185.9h3 M411.2,220.9h5 M411.2,241.8h3 M433.0,262.7v-5 M455.2,262.7v-3 M477.5,262.7v-5 M499.8,262.7v-3 M522.0,262.7v-5 M544.2,262.7v-3 M566.5,262.7v-5 M588.8,262.7v-3 M611.0,262.7v-5" stroke="#000" stroke-width="1.6" fill="none"/>
<path d="M409,208.8 L415,207 L415,211 L409,212.8Z" fill="#fff"/>
<path d="M404.5,210 L417.5,206 M404.5,214 L417.5,210" stroke="#000" stroke-width="1.6"/>
<text x="404.1" y="46.6" font-size="19.4" text-anchor="end" font-weight="normal" fill="#000" >1000</text>
<text x="404.1" y="88.29999999999998" font-size="19.4" text-anchor="end" font-weight="normal" fill="#000" >950</text>
<text x="404.1" y="130.0" font-size="19.4" text-anchor="end" font-weight="normal" fill="#000" >900</text>
<text x="404.1" y="171.7" font-size="19.4" text-anchor="end" font-weight="normal" fill="#000" >850</text>
<text x="404.1" y="227.49999999999997" font-size="19.4" text-anchor="end" font-weight="normal" fill="#000" >50</text>
<text x="404.1" y="269.3" font-size="19.4" text-anchor="end" font-weight="normal" fill="#000" >0</text>
<text x="433.0" y="284.9" font-size="19.4" text-anchor="middle" font-weight="normal" fill="#000" >0</text>
<text x="477.5" y="284.9" font-size="19.4" text-anchor="middle" font-weight="normal" fill="#000" >2</text>
<text x="522.0" y="284.9" font-size="19.4" text-anchor="middle" font-weight="normal" fill="#000" >4</text>
<text x="566.5" y="284.9" font-size="19.4" text-anchor="middle" font-weight="normal" fill="#000" >6</text>
<text x="611.0" y="284.9" font-size="19.4" text-anchor="middle" font-weight="normal" fill="#000" >8</text>
<text x="0" y="0" font-size="20" text-anchor="middle" transform="translate(353.3,150.3) rotate(-90)">Density (kg/m<tspan font-size="12" dy="-7">3</tspan><tspan dy="7">)</tspan></text>
<text x="521.4" y="316" font-size="19.7" text-anchor="middle" font-weight="normal" fill="#000" ><tspan stroke="#000" stroke-width="0.5">Average c</tspan>oordinates</text>
<text x="440.2" y="222.1" font-size="17" text-anchor="start" font-weight="normal" fill="#000" >Primitive Bubble Range</text>
<path d="M570.5,172.7h19" stroke="#377fc0" stroke-width="1.8"/><path d="M570.5,182.6h19" stroke="#bdb1dc" stroke-width="1.8"/>
<text x="593" y="177.5" font-size="12" text-anchor="start" font-weight="normal" fill="#000" >water</text>
<text x="595" y="189.5" font-size="11" text-anchor="start" font-weight="normal" fill="#000" >N<tspan font-size="8" dy="3">2</tspan></text>
<text x="-0.7" y="340.3" font-size="24.5" text-anchor="start" font-weight="normal" fill="#000" >c</text>
<g clip-path="url(#clipC)"><g mask="url(#fogCmask)"><rect x="38" y="326" width="124" height="124" filter="url(#noiseC)"/></g><ellipse cx="97" cy="391" rx="27" ry="23" fill="#a9b9c2" opacity="0.45"/><circle cx="99.5" cy="364.0" r="2.5" fill="url(#gLBlue)" opacity="0.55"/><circle cx="99.1" cy="367.0" r="2.5" fill="url(#gLBlue)" opacity="0.55"/><circle cx="105.9" cy="368.2" r="2.5" fill="url(#gLBlue)" opacity="0.55"/><circle cx="107.8" cy="368.4" r="2.5" fill="url(#gLBlue)" opacity="0.55"/><circle cx="79.2" cy="369.2" r="2.5" fill="url(#gLBlue)" opacity="0.55"/><circle cx="94.7" cy="369.9" r="2.5" fill="url(#gLBlue)" opacity="0.55"/><circle cx="103.3" cy="370.5" r="2.5" fill="url(#gLBlue)" opacity="0.55"/><circle cx="107.9" cy="370.6" r="2.5" fill="url(#gLBlue)" opacity="0.55"/><circle cx="107.2" cy="370.7" r="2.5" fill="url(#gLBlue)" opacity="0.55"/><circle cx="82.5" cy="371.0" r="2.5" fill="url(#gLBlue)" opacity="0.55"/><circle cx="76.1" cy="371.1" r="2.5" fill="url(#gLBlue)" opacity="0.55"/><circle cx="107.4" cy="371.1" r="2.5" fill="url(#gLBlue)" opacity="0.55"/><circle cx="99.1" cy="371.4" r="2.5" fill="url(#gLBlue)" opacity="0.55"/><circle cx="106.4" cy="371.4" r="2.5" fill="url(#gLBlue)" opacity="0.55"/><circle cx="85.1" cy="371.5" r="2.5" fill="url(#gLBlue)" opacity="0.55"/><circle cx="102.3" cy="371.8" r="2.5" fill="url(#gLBlue)" opacity="0.55"/><circle cx="82.1" cy="372.0" r="2.5" fill="url(#gLBlue)" opacity="0.55"/><circle cx="74.5" cy="372.1" r="2.5" fill="url(#gLBlue)" opacity="0.55"/><circle cx="107.7" cy="372.6" r="2.5" fill="url(#gLBlue)" opacity="0.55"/><circle cx="98.8" cy="372.7" r="2.5" fill="url(#gLBlue)" opacity="0.55"/><circle cx="101.3" cy="372.9" r="2.5" fill="url(#gLBlue)" opacity="0.55"/><circle cx="95.8" cy="373.1" r="2.5" fill="url(#gLBlue)" opacity="0.55"/><circle cx="108.6" cy="373.1" r="2.5" fill="url(#gLBlue)" opacity="0.55"/><circle cx="103.9" cy="373.2" r="2.5" fill="url(#gLBlue)" opacity="0.55"/><circle cx="93.2" cy="373.4" r="2.5" fill="url(#gLBlue)" opacity="0.55"/><circle cx="111.6" cy="373.6" r="2.5" fill="url(#gLBlue)" opacity="0.55"/><circle cx="114.9" cy="373.8" r="2.5" fill="url(#gLBlue)" opacity="0.55"/><circle cx="96.6" cy="374.0" r="2.5" fill="url(#gLBlue)" opacity="0.55"/><circle cx="98.1" cy="374.1" r="2.5" fill="url(#gLBlue)" opacity="0.55"/><circle cx="102.2" cy="374.2" r="2.5" fill="url(#gLBlue)" opacity="0.55"/><circle cx="119.5" cy="374.5" r="2.5" fill="url(#gLBlue)" opacity="0.55"/><circle cx="95.2" cy="374.6" r="2.5" fill="url(#gLBlue)" opacity="0.55"/><circle cx="90.5" cy="374.7" r="2.5" fill="url(#gLBlue)" opacity="0.55"/><circle cx="88.5" cy="375.3" r="2.5" fill="url(#gLBlue)" opacity="0.55"/><circle cx="84.9" cy="375.6" r="2.5" fill="url(#gLBlue)" opacity="0.55"/><circle cx="92.2" cy="375.9" r="2.5" fill="url(#gLBlue)" opacity="0.55"/><circle cx="87.3" cy="376.0" r="2.5" fill="url(#gLBlue)" opacity="0.55"/><circle cx="75.1" cy="376.3" r="2.5" fill="url(#gLBlue)" opacity="0.55"/><circle cx="82.2" cy="376.7" r="2.5" fill="url(#gLBlue)" opacity="0.55"/><circle cx="98.3" cy="377.2" r="2.5" fill="url(#gLBlue)" opacity="0.55"/><circle cx="109.6" cy="377.3" r="2.5" fill="url(#gLBlue)" opacity="0.55"/><circle cx="80.1" cy="377.4" r="2.5" fill="url(#gLBlue)" opacity="0.55"/><circle cx="119.0" cy="377.5" r="2.5" fill="url(#gLBlue)" opacity="0.55"/><circle cx="79.3" cy="377.5" r="2.5" fill="url(#gLBlue)" opacity="0.55"/><circle cx="95.5" cy="377.6" r="2.5" fill="url(#gLBlue)" opacity="0.55"/><circle cx="70.6" cy="377.9" r="2.5" fill="url(#gLBlue)" opacity="0.55"/><circle cx="74.6" cy="378.0" r="2.5" fill="url(#gLBlue)" opacity="0.55"/><circle cx="88.0" cy="378.1" r="2.5" fill="url(#gLBlue)" opacity="0.55"/><circle cx="89.4" cy="378.3" r="2.5" fill="url(#gLBlue)" opacity="0.55"/><circle cx="72.6" cy="378.4" r="2.5" fill="url(#gLBlue)" opacity="0.55"/><circle cx="91.6" cy="378.7" r="2.5" fill="url(#gLBlue)" opacity="0.55"/><circle cx="118.3" cy="378.9" r="2.5" fill="url(#gLBlue)" opacity="0.55"/><circle cx="120.4" cy="379.1" r="2.5" fill="url(#gLBlue)" opacity="0.55"/><circle cx="95.8" cy="379.3" r="2.5" fill="url(#gLBlue)" opacity="0.55"/><circle cx="73.3" cy="379.7" r="2.5" fill="url(#gLBlue)" opacity="0.55"/><circle cx="82.6" cy="379.8" r="2.5" fill="url(#gLBlue)" opacity="0.55"/><circle cx="106.2" cy="380.6" r="2.5" fill="url(#gLBlue)" opacity="0.55"/><circle cx="71.0" cy="380.8" r="2.5" fill="url(#gLBlue)" opacity="0.55"/><circle cx="99.1" cy="380.8" r="2.5" fill="url(#gLBlue)" opacity="0.55"/><circle cx="109.5" cy="380.8" r="2.5" fill="url(#gLBlue)" opacity="0.55"/><circle cx="120.5" cy="381.1" r="2.5" fill="url(#gLBlue)" opacity="0.55"/><circle cx="90.7" cy="381.2" r="2.5" fill="url(#gLBlue)" opacity="0.55"/><circle cx="79.9" cy="381.5" r="2.5" fill="url(#gLBlue)" opacity="0.55"/><circle cx="73.6" cy="381.8" r="2.5" fill="url(#gLBlue)" opacity="0.55"/><circle cx="75.5" cy="381.9" r="2.5" fill="url(#gLBlue)" opacity="0.55"/><circle cx="105.0" cy="381.9" r="2.5" fill="url(#gLBlue)" opacity="0.55"/><circle cx="112.9" cy="382.5" r="2.5" fill="url(#gLBlue)" opacity="0.55"/><circle cx="110.3" cy="382.5" r="2.5" fill="url(#gLBlue)" opacity="0.55"/><circle cx="69.2" cy="382.9" r="2.5" fill="url(#gLBlue)" opacity="0.55"/><circle cx="110.4" cy="383.1" r="2.5" fill="url(#gLBlue)" opacity="0.55"/><circle cx="116.8" cy="383.1" r="2.5" fill="url(#gLBlue)" opacity="0.55"/><circle cx="82.6" cy="383.1" r="2.5" fill="url(#gLBlue)" opacity="0.55"/><circle cx="70.4" cy="383.3" r="2.5" fill="url(#gLBlue)" opacity="0.55"/><circle cx="119.2" cy="383.4" r="2.5" fill="url(#gLBlue)" opacity="0.55"/><circle cx="120.0" cy="383.7" r="2.5" fill="url(#gLBlue)" opacity="0.55"/><circle cx="81.0" cy="383.8" r="2.5" fill="url(#gLBlue)" opacity="0.55"/><circle cx="114.2" cy="383.9" r="2.5" fill="url(#gLBlue)" opacity="0.55"/><circle cx="94.6" cy="383.9" r="2.5" fill="url(#gLBlue)" opacity="0.55"/><circle cx="68.5" cy="384.2" r="2.5" fill="url(#gLBlue)" opacity="0.55"/><circle cx="74.7" cy="384.2" r="2.5" fill="url(#gLBlue)" opacity="0.55"/><circle cx="113.9" cy="384.4" r="2.5" fill="url(#gLBlue)" opacity="0.55"/><circle cx="85.5" cy="384.6" r="2.5" fill="url(#gLBlue)" opacity="0.55"/><circle cx="116.7" cy="384.7" r="2.5" fill="url(#gLBlue)" opacity="0.55"/><circle cx="100.8" cy="384.7" r="2.5" fill="url(#gLBlue)" opacity="0.55"/><circle cx="78.4" cy="384.8" r="2.5" fill="url(#gLBlue)" opacity="0.55"/><circle cx="106.5" cy="385.1" r="2.5" fill="url(#gLBlue)" opacity="0.55"/><circle cx="126.5" cy="385.2" r="2.5" fill="url(#gLBlue)" opacity="0.55"/><circle cx="91.9" cy="385.3" r="2.5" fill="url(#gLBlue)" opacity="0.55"/><circle cx="126.7" cy="385.5" r="2.5" fill="url(#gLBlue)" opacity="0.55"/><circle cx="108.4" cy="385.8" r="2.5" fill="url(#gLBlue)" opacity="0.55"/><circle cx="70.7" cy="385.8" r="2.5" fill="url(#gLBlue)" opacity="0.55"/><circle cx="69.4" cy="386.1" r="2.5" fill="url(#gLBlue)" opacity="0.55"/><circle cx="111.4" cy="386.6" r="2.5" fill="url(#gLBlue)" opacity="0.55"/><circle cx="106.2" cy="386.7" r="2.5" fill="url(#gLBlue)" opacity="0.55"/><circle cx="102.1" cy="386.9" r="2.5" fill="url(#gLBlue)" opacity="0.55"/><circle cx="86.0" cy="387.3" r="2.5" fill="url(#gLBlue)" opacity="0.55"/><circle cx="66.2" cy="387.4" r="2.5" fill="url(#gLBlue)" opacity="0.55"/><circle cx="99.8" cy="387.4" r="2.5" fill="url(#gLBlue)" opacity="0.55"/><circle cx="78.7" cy="387.9" r="2.5" fill="url(#gLBlue)" opacity="0.55"/><circle cx="111.6" cy="388.1" r="2.5" fill="url(#gLBlue)" opacity="0.55"/><circle cx="102.4" cy="388.3" r="2.5" fill="url(#gLBlue)" opacity="0.55"/><circle cx="117.1" cy="388.3" r="2.5" fill="url(#gLBlue)" opacity="0.55"/><circle cx="76.3" cy="388.6" r="2.5" fill="url(#gLBlue)" opacity="0.55"/><circle cx="85.0" cy="388.6" r="2.5" fill="url(#gLBlue)" opacity="0.55"/><circle cx="82.7" cy="388.9" r="2.5" fill="url(#gLBlue)" opacity="0.55"/><circle cx="90.5" cy="389.0" r="2.5" fill="url(#gLBlue)" opacity="0.55"/><circle cx="100.4" cy="389.4" r="2.5" fill="url(#gLBlue)" opacity="0.55"/><circle cx="93.7" cy="389.4" r="2.5" fill="url(#gLBlue)" opacity="0.55"/><circle cx="105.6" cy="389.7" r="2.5" fill="url(#gLBlue)" opacity="0.55"/><circle cx="69.7" cy="389.8" r="2.5" fill="url(#gLBlue)" opacity="0.55"/><circle cx="102.6" cy="389.8" r="2.5" fill="url(#gLBlue)" opacity="0.55"/><circle cx="76.1" cy="390.0" r="2.5" fill="url(#gLBlue)" opacity="0.55"/><circle cx="94.0" cy="390.5" r="2.5" fill="url(#gLBlue)" opacity="0.55"/><circle cx="103.7" cy="390.5" r="2.5" fill="url(#gLBlue)" opacity="0.55"/><circle cx="121.3" cy="390.7" r="2.5" fill="url(#gLBlue)" opacity="0.55"/><circle cx="110.8" cy="390.8" r="2.5" fill="url(#gLBlue)" opacity="0.55"/><circle cx="121.9" cy="391.3" r="2.5" fill="url(#gLBlue)" opacity="0.55"/><circle cx="101.6" cy="391.5" r="2.5" fill="url(#gLBlue)" opacity="0.55"/><circle cx="120.9" cy="391.6" r="2.5" fill="url(#gLBlue)" opacity="0.55"/><circle cx="118.1" cy="391.8" r="2.5" fill="url(#gLBlue)" opacity="0.55"/><circle cx="118.3" cy="391.8" r="2.5" fill="url(#gLBlue)" opacity="0.55"/><circle cx="93.3" cy="392.0" r="2.5" fill="url(#gLBlue)" opacity="0.55"/><circle cx="94.9" cy="392.2" r="2.5" fill="url(#gLBlue)" opacity="0.55"/><circle cx="121.5" cy="392.5" r="2.5" fill="url(#gLBlue)" opacity="0.55"/><circle cx="68.8" cy="392.6" r="2.5" fill="url(#gLBlue)" opacity="0.55"/><circle cx="76.9" cy="392.7" r="2.5" fill="url(#gLBlue)" opacity="0.55"/><circle cx="98.5" cy="393.1" r="2.5" fill="url(#gLBlue)" opacity="0.55"/><circle cx="96.6" cy="393.1" r="2.5" fill="url(#gLBlue)" opacity="0.55"/><circle cx="78.5" cy="393.3" r="2.5" fill="url(#gLBlue)" opacity="0.55"/><circle cx="106.1" cy="393.4" r="2.5" fill="url(#gLBlue)" opacity="0.55"/><circle cx="78.5" cy="393.4" r="2.5" fill="url(#gLBlue)" opacity="0.55"/><circle cx="75.9" cy="393.5" r="2.5" fill="url(#gLBlue)" opacity="0.55"/><circle cx="121.9" cy="393.5" r="2.5" fill="url(#gLBlue)" opacity="0.55"/><circle cx="103.5" cy="393.5" r="2.5" fill="url(#gLBlue)" opacity="0.55"/><circle cx="115.3" cy="393.8" r="2.5" fill="url(#gLBlue)" opacity="0.55"/><circle cx="74.0" cy="394.5" r="2.5" fill="url(#gLBlue)" opacity="0.55"/><circle cx="104.1" cy="394.8" r="2.5" fill="url(#gLBlue)" opacity="0.55"/><circle cx="120.6" cy="395.0" r="2.5" fill="url(#gLBlue)" opacity="0.55"/><circle cx="76.8" cy="395.1" r="2.5" fill="url(#gLBlue)" opacity="0.55"/><circle cx="72.6" cy="395.3" r="2.5" fill="url(#gLBlue)" opacity="0.55"/><circle cx="72.8" cy="395.4" r="2.5" fill="url(#gLBlue)" opacity="0.55"/><circle cx="98.5" cy="395.5" r="2.5" fill="url(#gLBlue)" opacity="0.55"/><circle cx="94.7" cy="396.1" r="2.5" fill="url(#gLBlue)" opacity="0.55"/><circle cx="72.2" cy="396.4" r="2.5" fill="url(#gLBlue)" opacity="0.55"/><circle cx="97.0" cy="396.6" r="2.5" fill="url(#gLBlue)" opacity="0.55"/><circle cx="119.5" cy="396.9" r="2.5" fill="url(#gLBlue)" opacity="0.55"/><circle cx="100.5" cy="397.0" r="2.5" fill="url(#gLBlue)" opacity="0.55"/><circle cx="93.6" cy="397.0" r="2.5" fill="url(#gLBlue)" opacity="0.55"/><circle cx="76.0" cy="397.1" r="2.5" fill="url(#gLBlue)" opacity="0.55"/><circle cx="77.9" cy="397.2" r="2.5" fill="url(#gLBlue)" opacity="0.55"/><circle cx="80.2" cy="397.2" r="2.5" fill="url(#gLBlue)" opacity="0.55"/><circle cx="76.7" cy="397.3" r="2.5" fill="url(#gLBlue)" opacity="0.55"/><circle cx="103.2" cy="397.3" r="2.5" fill="url(#gLBlue)" opacity="0.55"/><circle cx="100.5" cy="397.5" r="2.5" fill="url(#gLBlue)" opacity="0.55"/><circle cx="86.4" cy="397.9" r="2.5" fill="url(#gLBlue)" opacity="0.55"/><circle cx="111.7" cy="398.0" r="2.5" fill="url(#gLBlue)" opacity="0.55"/><circle cx="125.0" cy="398.1" r="2.5" fill="url(#gLBlue)" opacity="0.55"/><circle cx="88.6" cy="398.5" r="2.5" fill="url(#gLBlue)" opacity="0.55"/><circle cx="119.3" cy="398.6" r="2.5" fill="url(#gLBlue)" opacity="0.55"/><circle cx="76.4" cy="398.6" r="2.5" fill="url(#gLBlue)" opacity="0.55"/><circle cx="78.9" cy="398.9" r="2.5" fill="url(#gLBlue)" opacity="0.55"/><circle cx="116.6" cy="399.1" r="2.5" fill="url(#gLBlue)" opacity="0.55"/><circle cx="101.3" cy="399.1" r="2.5" fill="url(#gLBlue)" opacity="0.55"/><circle cx="95.3" cy="399.6" r="2.5" fill="url(#gLBlue)" opacity="0.55"/><circle cx="77.8" cy="400.4" r="2.5" fill="url(#gLBlue)" opacity="0.55"/><circle cx="93.9" cy="401.1" r="2.5" fill="url(#gLBlue)" opacity="0.55"/><circle cx="117.5" cy="401.1" r="2.5" fill="url(#gLBlue)" opacity="0.55"/><circle cx="78.0" cy="401.4" r="2.5" fill="url(#gLBlue)" opacity="0.55"/><circle cx="73.6" cy="401.7" r="2.5" fill="url(#gLBlue)" opacity="0.55"/><circle cx="100.6" cy="402.0" r="2.5" fill="url(#gLBlue)" opacity="0.55"/><circle cx="114.0" cy="402.0" r="2.5" fill="url(#gLBlue)" opacity="0.55"/><circle cx="106.4" cy="402.1" r="2.5" fill="url(#gLBlue)" opacity="0.55"/><circle cx="85.8" cy="402.1" r="2.5" fill="url(#gLBlue)" opacity="0.55"/><circle cx="100.7" cy="402.5" r="2.5" fill="url(#gLBlue)" opacity="0.55"/><circle cx="79.3" cy="402.7" r="2.5" fill="url(#gLBlue)" opacity="0.55"/><circle cx="96.8" cy="402.7" r="2.5" fill="url(#gLBlue)" opacity="0.55"/><circle cx="77.1" cy="402.8" r="2.5" fill="url(#gLBlue)" opacity="0.55"/><circle cx="91.1" cy="403.0" r="2.5" fill="url(#gLBlue)" opacity="0.55"/><circle cx="71.3" cy="403.1" r="2.5" fill="url(#gLBlue)" opacity="0.55"/><circle cx="114.8" cy="403.5" r="2.5" fill="url(#gLBlue)" opacity="0.55"/><circle cx="84.2" cy="403.6" r="2.5" fill="url(#gLBlue)" opacity="0.55"/><circle cx="93.9" cy="403.6" r="2.5" fill="url(#gLBlue)" opacity="0.55"/><circle cx="80.9" cy="404.3" r="2.5" fill="url(#gLBlue)" opacity="0.55"/><circle cx="88.8" cy="404.5" r="2.5" fill="url(#gLBlue)" opacity="0.55"/><circle cx="92.2" cy="404.7" r="2.5" fill="url(#gLBlue)" opacity="0.55"/><circle cx="82.1" cy="404.7" r="2.5" fill="url(#gLBlue)" opacity="0.55"/><circle cx="89.6" cy="404.8" r="2.5" fill="url(#gLBlue)" opacity="0.55"/><circle cx="99.1" cy="404.9" r="2.5" fill="url(#gLBlue)" opacity="0.55"/><circle cx="95.4" cy="405.1" r="2.5" fill="url(#gLBlue)" opacity="0.55"/><circle cx="109.7" cy="405.8" r="2.5" fill="url(#gLBlue)" opacity="0.55"/><circle cx="110.8" cy="406.2" r="2.5" fill="url(#gLBlue)" opacity="0.55"/><circle cx="108.6" cy="406.3" r="2.5" fill="url(#gLBlue)" opacity="0.55"/><circle cx="102.8" cy="406.4" r="2.5" fill="url(#gLBlue)" opacity="0.55"/><circle cx="102.8" cy="406.4" r="2.5" fill="url(#gLBlue)" opacity="0.55"/><circle cx="76.9" cy="406.6" r="2.5" fill="url(#gLBlue)" opacity="0.55"/><circle cx="86.4" cy="406.8" r="2.5" fill="url(#gLBlue)" opacity="0.55"/><circle cx="71.6" cy="406.9" r="2.5" fill="url(#gLBlue)" opacity="0.55"/><circle cx="81.4" cy="407.5" r="2.5" fill="url(#gLBlue)" opacity="0.55"/><circle cx="83.4" cy="407.7" r="2.5" fill="url(#gLBlue)" opacity="0.55"/><circle cx="106.5" cy="407.7" r="2.5" fill="url(#gLBlue)" opacity="0.55"/><circle cx="115.0" cy="408.2" r="2.5" fill="url(#gLBlue)" opacity="0.55"/><circle cx="104.0" cy="408.3" r="2.5" fill="url(#gLBlue)" opacity="0.55"/><circle cx="83.0" cy="408.3" r="2.5" fill="url(#gLBlue)" opacity="0.55"/><circle cx="99.9" cy="408.6" r="2.5" fill="url(#gLBlue)" opacity="0.55"/><circle cx="113.6" cy="408.6" r="2.5" fill="url(#gLBlue)" opacity="0.55"/><circle cx="79.8" cy="409.1" r="2.5" fill="url(#gLBlue)" opacity="0.55"/><circle cx="81.5" cy="409.5" r="2.5" fill="url(#gLBlue)" opacity="0.55"/><circle cx="87.2" cy="409.9" r="2.5" fill="url(#gLBlue)" opacity="0.55"/><circle cx="98.4" cy="410.4" r="2.5" fill="url(#gLBlue)" opacity="0.55"/><circle cx="92.1" cy="410.4" r="2.5" fill="url(#gLBlue)" opacity="0.55"/><circle cx="95.8" cy="410.6" r="2.5" fill="url(#gLBlue)" opacity="0.55"/><circle cx="109.5" cy="410.7" r="2.5" fill="url(#gLBlue)" opacity="0.55"/><circle cx="88.2" cy="412.0" r="2.5" fill="url(#gLBlue)" opacity="0.55"/><circle cx="88.9" cy="412.2" r="2.5" fill="url(#gLBlue)" opacity="0.55"/><circle cx="95.5" cy="412.4" r="2.5" fill="url(#gLBlue)" opacity="0.55"/><circle cx="112.7" cy="412.8" r="2.5" fill="url(#gLBlue)" opacity="0.55"/><circle cx="88.5" cy="412.9" r="2.5" fill="url(#gLBlue)" opacity="0.55"/><circle cx="98.0" cy="413.0" r="2.5" fill="url(#gLBlue)" opacity="0.55"/><circle cx="93.7" cy="413.1" r="2.5" fill="url(#gLBlue)" opacity="0.55"/><circle cx="107.4" cy="413.2" r="2.5" fill="url(#gLBlue)" opacity="0.55"/><circle cx="85.7" cy="414.2" r="2.5" fill="url(#gLBlue)" opacity="0.55"/><circle cx="96.8" cy="414.6" r="2.5" fill="url(#gLBlue)" opacity="0.55"/><circle cx="97.4" cy="414.7" r="2.5" fill="url(#gLBlue)" opacity="0.55"/><circle cx="99.3" cy="415.6" r="2.5" fill="url(#gLBlue)" opacity="0.55"/><circle cx="93.1" cy="415.9" r="2.5" fill="url(#gLBlue)" opacity="0.55"/><circle cx="104.2" cy="416.2" r="2.5" fill="url(#gLBlue)" opacity="0.55"/><circle cx="91.1" cy="416.4" r="2.5" fill="url(#gLBlue)" opacity="0.55"/><circle cx="105.5" cy="417.0" r="2.5" fill="url(#gLBlue)" opacity="0.55"/><circle cx="94.1" cy="417.0" r="2.5" fill="url(#gLBlue)" opacity="0.55"/><circle cx="104.1" cy="417.1" r="2.5" fill="url(#gLBlue)" opacity="0.55"/><circle cx="129" cy="363" r="2.4" fill="url(#gLBlue)" opacity="0.8"/><circle cx="67" cy="389" r="2.4" fill="url(#gLBlue)" opacity="0.8"/></g>
<path d="M75.9,561.0 L76.8,536.4 L77.7,529.5 L78.6,536.3 L79.5,507.9 L80.4,513.9 L81.3,494.9 L82.2,458.7 L83.1,436.3 L84.0,412.5 L84.9,459.3 L85.8,468.0 L86.7,474.9 L87.6,481.8 L88.5,508.7 L89.4,512.2 L90.3,512.1 L92.3,507.9 L94.3,516.1 L96.3,523.3 L98.3,521.2 L100.3,536.1 L102.3,542.2 L104.3,533.6 L106.3,538.4 L108.3,532.0 L110.3,528.2 L112.3,526.7 L114.3,529.1 L116.3,526.8 L118.3,535.8 L120.3,532.6 L122.3,530.1 L124.3,527.0 L126.3,515.5 L128.3,524.3 L130.3,520.4 L132.3,512.3 L134.3,515.4 L136.3,503.4 L138.3,509.6 L140.3,516.6 L142.3,512.7 L144.3,519.8 L146.3,520.5 L148.3,519.2 L150.3,526.5 L152.3,519.8 L154.3,520.1 L156.3,529.0 L158.3,521.6 L160.3,526.8 L162.3,527.3 L164.3,524.3 L166.3,527.1 L168.3,519.3 L170.3,528.1 L172.3,521.8 L174.3,525.3 L176.3,523.6 L178.3,514.0 L180.3,521.3 L182.3,524.6 L184.3,525.8 L186.3,528.9 L188.3,522.6 L190.3,521.4 L192.3,528.6 L194.3,525.1 L196.3,520.9 L198.3,517.6 L200.3,526.8 L202.3,524.2 L204.3,518.0 L206.3,520.9 L208.3,526.9 L210.3,523.2 L212.3,513.8 L214.3,522.2 L216.3,518.6 L218.3,523.5 L220.3,521.0 L222.3,515.8 L224.3,524.2 L226.3,519.8 L228.3,524.2 L230.3,526.3 L232.3,522.9 L234.3,523.2 L236.3,526.0 L238.3,522.8 L240.3,519.5 L242.3,528.7 L244.3,524.1 L246.3,518.3 L248.3,526.2 L250.3,520.7 L252.3,526.6 L254.3,521.9 L256.3,522.1 L258.3,521.0 L260.3,518.8 L262.3,518.5 L264.3,526.8 L266.3,526.9 L268.3,520.6 L270.3,522.7 L272.3,523.6 L274.3,526.1 L276.3,527.3 L278.3,525.5 L280.3,529.0 L282.3,514.0 L282.3,541.7 L280.3,543.7 L278.3,547.7 L276.3,545.9 L274.3,550.5 L272.3,558.3 L270.3,548.6 L268.3,545.1 L266.3,553.6 L264.3,550.4 L262.3,542.8 L260.3,541.6 L258.3,544.5 L256.3,540.3 L254.3,543.1 L252.3,543.9 L250.3,545.2 L248.3,541.3 L246.3,543.6 L244.3,543.4 L242.3,545.2 L240.3,550.9 L238.3,541.9 L236.3,549.6 L234.3,540.9 L232.3,542.0 L230.3,548.2 L228.3,542.3 L226.3,543.2 L224.3,542.8 L222.3,547.0 L220.3,545.1 L218.3,546.2 L216.3,539.1 L214.3,553.2 L212.3,543.2 L210.3,548.2 L208.3,549.5 L206.3,548.4 L204.3,544.3 L202.3,545.1 L200.3,543.5 L198.3,539.4 L196.3,546.5 L194.3,542.4 L192.3,544.2 L190.3,541.8 L188.3,547.3 L186.3,541.4 L184.3,541.7 L182.3,550.2 L180.3,542.2 L178.3,550.8 L176.3,546.6 L174.3,543.8 L172.3,550.6 L170.3,545.4 L168.3,544.0 L166.3,544.4 L164.3,549.4 L162.3,541.8 L160.3,540.2 L158.3,545.4 L156.3,546.2 L154.3,548.2 L152.3,542.7 L150.3,544.6 L148.3,540.9 L146.3,544.2 L144.3,541.6 L142.3,539.2 L140.3,533.8 L138.3,533.4 L136.3,536.9 L134.3,530.3 L132.3,541.0 L130.3,538.8 L128.3,540.5 L126.3,544.2 L124.3,553.0 L122.3,552.9 L120.3,554.8 L118.3,557.0 L116.3,559.1 L114.3,558.1 L112.3,556.3 L110.3,554.5 L108.3,551.5 L106.3,556.1 L104.3,560.3 L102.3,562.3 L100.3,553.2 L98.3,551.4 L96.3,539.6 L94.3,536.5 L92.3,529.4 L90.3,532.3 L89.4,527.2 L88.5,526.6 L87.6,520.2 L86.7,531.4 L85.8,511.3 L84.9,489.8 L84.0,495.5 L83.1,494.5 L82.2,518.5 L81.3,525.8 L80.4,536.0 L79.5,562.3 L78.6,562.3 L77.7,562.3 L76.8,562.3 L75.9,562.3Z" fill="#8ec5dc" stroke="#8ec5dc" stroke-width="0.8" stroke-linejoin="round"/>
<path d="M103.5,507.5 V562.3" stroke="#f4a97a" stroke-width="2.2" fill="none" stroke-dasharray="9.2,7.0"/>
<path d="M102.4,507.5 H284.5" stroke="#f4a97a" stroke-width="2.2" fill="none" stroke-dasharray="7.9,7.1" stroke-dashoffset="4.0"/>
<path d="M63.5,562.3 L75.6,562.3 L75.8,562.3 L77.3,556.4 L78.8,547.5 L80.3,529.9 L81.8,500.6 L83.3,465.9 L84.8,474.0 L86.3,500.0 L87.8,509.6 L89.3,516.3 L90.8,519.0 L92.3,520.9 L93.8,520.2 L95.3,529.3 L96.8,532.4 L98.3,534.8 L99.8,541.5 L101.3,543.9 L102.8,551.7 L104.3,548.2 L105.8,547.3 L107.3,542.9 L108.8,540.6 L110.3,543.4 L111.8,543.8 L113.3,544.5 L114.8,540.1 L116.3,540.7 L117.8,544.1 L119.3,539.3 L120.8,543.2 L122.3,539.4 L123.8,541.7 L125.3,541.3 L126.8,534.1 L128.3,536.8 L129.8,534.9 L131.3,527.7 L132.8,525.5 L134.3,526.3 L135.8,519.2 L137.3,520.4 L138.8,519.7 L140.3,524.8 L141.8,522.8 L143.3,526.9 L144.8,526.6 L146.3,528.1 L147.8,532.9 L149.3,533.2 L150.8,535.2 L152.3,535.9 L153.8,536.9 L155.3,535.8 L156.8,534.2 L158.3,538.3 L159.8,533.9 L161.3,536.1 L162.8,536.2 L164.3,532.7 L165.8,534.9 L167.3,536.0 L168.8,535.0 L170.3,533.7 L171.8,538.3 L173.3,532.5 L174.8,539.1 L176.3,534.6 L177.8,534.2 L179.3,539.8 L180.8,534.8 L182.3,537.6 L183.8,536.0 L185.3,539.4 L186.8,538.8 L188.3,537.4 L189.8,531.8 L191.3,536.4 L192.8,532.3 L194.3,530.8 L195.8,530.5 L197.3,534.4 L198.8,534.4 L200.3,533.5 L201.8,532.1 L203.3,536.7 L204.8,532.8 L206.3,532.7 L207.8,532.4 L209.3,537.9 L210.8,531.8 L212.3,537.1 L213.8,535.1 L215.3,532.9 L216.8,530.5 L218.3,533.8 L219.8,529.6 L221.3,531.9 L222.8,533.3 L224.3,533.3 L225.8,534.5 L227.3,535.6 L228.8,535.7 L230.3,532.8 L231.8,531.4 L233.3,537.5 L234.8,538.7 L236.3,532.8 L237.8,535.9 L239.3,536.7 L240.8,537.6 L242.3,534.9 L243.8,533.0 L245.3,535.0 L246.8,534.7 L248.3,536.8 L249.8,530.8 L251.3,536.5 L252.8,533.4 L254.3,531.2 L255.8,536.0 L257.3,532.1 L258.8,530.9 L260.3,533.2 L261.8,532.4 L263.3,537.1 L264.8,535.2 L266.3,537.4 L267.8,533.2 L269.3,537.3 L270.8,536.7 L272.3,533.6 L273.8,535.0 L275.3,534.4 L276.8,537.8 L278.3,537.3 L279.8,535.2 L281.3,536.3 L282.8,536.8 L284.3,535.4" fill="none" stroke="#3a80c0" stroke-width="2.3" stroke-linejoin="round"/>
<path d="M75.8,562.3 L76.2,561.3 L76.8,559.9 L77.5,558.2 L78.3,556.4 L79.1,554.3 L80.0,552.0 L80.9,549.5 L81.9,546.6 L83.0,543.6 L84.1,540.4 L85.2,537.3 L86.3,534.4 L87.5,531.5 L88.7,528.5 L90.0,525.5 L91.2,522.7 L92.4,520.2 L93.4,518.0 L94.3,516.3 L95.0,514.9 L95.7,513.8 L96.4,512.8 L97.1,511.9 L98.0,511.0 L99.0,510.1 L100.2,509.4 L101.4,508.7 L102.7,508.1 L103.9,507.3 L105.0,506.4 L106.1,505.3 L107.1,504.2 L108.1,503.0 L109.1,501.7 L110.0,500.4 L111.0,499.0 L111.9,497.8 L112.8,496.6 L113.6,495.5 L114.5,494.1 L115.5,492.3 L116.7,490.0 L118.1,487.0 L119.6,483.5 L121.3,479.5 L122.9,475.3 L124.5,471.0 L126.0,466.7 L127.3,462.2 L128.6,457.5 L129.8,452.6 L130.9,447.7 L132.0,443.0 L133.0,438.7 L133.9,434.9 L134.7,431.6 L135.4,428.5 L136.2,425.3 L137.0,421.7 L137.9,417.4 L138.9,412.4 L140.1,406.8 L141.3,400.8 L142.5,394.6 L143.7,388.3 L145.0,382.0 L146.4,375.2 L147.9,367.6 L149.4,359.9 L150.9,352.8 L152.1,346.7 L153.0,342.3" fill="none" stroke="#b8acde" stroke-width="1.4"/>
<path d="M118,348.5 L207,384 M99.3,369.5 L151.6,449.2" stroke="#1f3df5" stroke-width="1" stroke-dasharray="3,2" fill="none"/><circle cx="197.3" cy="430.2" r="46.3" fill="#fff" fill-opacity="0.95"/><g mask="url(#pnM1)"><rect x="153.3" y="386.2" width="88" height="88" filter="url(#noiseR)"/></g><path d="M180.3,417.1L178.0,412.4" stroke="#cfcfcf" stroke-width="2.4"/><path d="M180.3,417.1L185.3,415.8" stroke="#cfcfcf" stroke-width="2.4"/><circle cx="180.3" cy="417.1" r="3.4" fill="url(#gRed)"/><circle cx="178.0" cy="412.4" r="2.4" fill="url(#gWhite)"/><circle cx="185.3" cy="415.8" r="2.4" fill="url(#gWhite)"/><path d="M191.0,426.8L186.0,425.4" stroke="#cfcfcf" stroke-width="2.4"/><path d="M191.0,426.8L194.4,422.9" stroke="#cfcfcf" stroke-width="2.4"/><circle cx="191" cy="426.8" r="3.4" fill="url(#gRed)"/><circle cx="186.0" cy="425.4" r="2.2" fill="url(#gWhite)"/><circle cx="194.4" cy="422.9" r="2.2" fill="url(#gWhite)"/><path d="M191.0,445.7L194.7,442.1" stroke="#cfcfcf" stroke-width="2.4"/><circle cx="191" cy="445.7" r="3.1" fill="url(#gRed)"/><circle cx="194.7" cy="442.1" r="2.2" fill="url(#gWhite)"/><path d="M221.2,440.6L219.1,435.8" stroke="#cfcfcf" stroke-width="2.4"/><path d="M221.2,440.6L218.4,445.0" stroke="#cfcfcf" stroke-width="2.4"/><circle cx="221.2" cy="440.6" r="3.4" fill="url(#gRed)"/><circle cx="219.1" cy="435.8" r="2.4" fill="url(#gWhite)"/><circle cx="218.4" cy="445.0" r="2.4" fill="url(#gWhite)"/><circle cx="202.8" cy="435" r="2" fill="url(#gWhite)"/><circle cx="211" cy="397.7" r="2.2" fill="url(#gWhite)"/><circle cx="216" cy="394.5" r="2.5" fill="#f2eaea"/><circle cx="205.5" cy="416.6" r="14.8" fill="url(#gRed)"/><circle cx="211.2" cy="414.5" r="11.3" fill="url(#gWhite)"/><circle cx="197.3" cy="430.2" r="46.3" fill="none" stroke="#1f3df5" stroke-width="2.6" stroke-dasharray="6.5,3.6"/><circle cx="106" cy="355.8" r="12.9" fill="none" stroke="#1f3df5" stroke-width="2.6" stroke-dasharray="6.5,3.6"/><circle cx="106" cy="354.5" r="1.6" fill="#e08a8a" opacity="0.7"/>
<rect x="63.5" y="342.3" width="221.0" height="219.99999999999994" fill="none" stroke="#000" stroke-width="2"/>
<path d="M63.5,562.3h5 M63.5,548.5h3 M63.5,534.8h5 M63.5,521.0h3 M63.5,507.3h5 M63.5,493.5h3 M63.5,479.8h5 M63.5,466.0h3 M63.5,452.3h5 M63.5,438.5h3 M63.5,424.8h5 M63.5,411.0h3 M63.5,397.3h5 M63.5,383.5h3 M63.5,369.8h5 M63.5,356.0h3 M63.5,342.3h5 M284.5,562.3h-5 M284.5,534.8h-3 M284.5,507.3h-5 M284.5,479.8h-3 M284.5,452.3h-5 M284.5,424.8h-3 M284.5,397.3h-5 M284.5,369.8h-3 M284.5,342.3h-5 M63.5,562.3v-5 M91.1,562.3v-3 M118.7,562.3v-5 M146.3,562.3v-3 M173.9,562.3v-5 M201.5,562.3v-3 M229.1,562.3v-5 M256.7,562.3v-3 M284.3,562.3v-5" stroke="#000" stroke-width="1.7" fill="none"/>
<text x="55.7" y="568.8499999999999" font-size="20.2" text-anchor="end" font-weight="normal" fill="#000" >0</text>
<text x="55.7" y="541.3499999999999" font-size="20.2" text-anchor="end" font-weight="normal" fill="#000" >1</text>
<text x="55.7" y="513.8499999999999" font-size="20.2" text-anchor="end" font-weight="normal" fill="#000" >2</text>
<text x="55.7" y="486.34999999999997" font-size="20.2" text-anchor="end" font-weight="normal" fill="#000" >3</text>
<text x="55.7" y="458.84999999999997" font-size="20.2" text-anchor="end" font-weight="normal" fill="#000" stroke="#1a2238" stroke-width="0.45" fill="#1a2238">4</text>
<text x="55.7" y="431.34999999999997" font-size="20.2" text-anchor="end" font-weight="normal" fill="#000" stroke="#1a2238" stroke-width="0.45" fill="#1a2238">5</text>
<text x="55.7" y="403.84999999999997" font-size="20.2" text-anchor="end" font-weight="normal" fill="#000" stroke="#1a2238" stroke-width="0.45" fill="#1a2238">6</text>
<text x="55.7" y="376.34999999999997" font-size="20.2" text-anchor="end" font-weight="normal" fill="#000" stroke="#1a2238" stroke-width="0.45" fill="#1a2238">7</text>
<text x="55.7" y="348.84999999999997" font-size="20.2" text-anchor="end" font-weight="normal" fill="#000" stroke="#1a2238" stroke-width="0.45" fill="#1a2238">8</text>
<text x="291.1" y="568.55" font-size="20.2" text-anchor="start" font-weight="normal" fill="#000" >0</text>
<text x="291.1" y="513.55" font-size="20.2" text-anchor="start" font-weight="normal" fill="#000" >5</text>
<text x="291.1" y="458.54999999999995" font-size="20.2" text-anchor="start" font-weight="normal" fill="#000" >10</text>
<text x="291.1" y="403.54999999999995" font-size="20.2" text-anchor="start" font-weight="normal" fill="#000" >15</text>
<text x="291.1" y="348.54999999999995" font-size="20.2" text-anchor="start" font-weight="normal" fill="#000" >20</text>
<text x="63.5" y="585.1999999999999" font-size="20.2" text-anchor="middle" font-weight="normal" fill="#000" >0.2</text>
<text x="118.7" y="585.1999999999999" font-size="20.2" text-anchor="middle" font-weight="normal" fill="#000" >0.4</text>
<text x="173.90000000000003" y="585.1999999999999" font-size="20.2" text-anchor="middle" font-weight="normal" fill="#000" >0.6</text>
<text x="229.10000000000002" y="585.1999999999999" font-size="20.2" text-anchor="middle" font-weight="normal" fill="#000" >0.8</text>
<text x="284.3" y="585.1999999999999" font-size="20.2" text-anchor="middle" font-weight="normal" fill="#000" >1.0</text>
<text x="173.59999999999997" y="616.1" font-size="19.8" text-anchor="middle" font-weight="normal" fill="#000" >r (nm)</text>
<text x="0" y="0" font-size="20.5" text-anchor="middle" transform="translate(24.2,450.8) rotate(-90)">g(r)</text>
<text x="0" y="0" font-size="20" text-anchor="middle" transform="translate(335.5,450.6) rotate(-90)">Coordinate Number</text>
<path d="M212.5,355.3h19" stroke="#b8acde" stroke-width="1.8"/><path d="M212.5,366.3h19" stroke="#3a80c0" stroke-width="1.8"/>
<text x="233.5" y="357.90000000000003" font-size="9.8" text-anchor="start" font-weight="normal" fill="#000" >CN</text>
<text x="233.5" y="368.90000000000003" font-size="9.8" text-anchor="start" font-weight="normal" fill="#000" >RDF</text>
<text x="122.624" y="504.3" font-size="16.5" text-anchor="start" font-weight="normal" fill="#000" >5.0</text>
<text x="352.3" y="340.3" font-size="24.5" text-anchor="start" font-weight="normal" fill="#000" >d</text>
<g mask="url(#fogDmask)"><rect x="375" y="312" width="145" height="135" filter="url(#noiseD)"/></g>
<path d="M427.7,559.3 L428.6,558.0 L429.5,553.6 L430.4,554.1 L431.3,553.6 L432.2,548.2 L433.1,540.3 L434.0,535.9 L434.9,528.5 L435.8,517.1 L436.7,506.9 L437.6,495.8 L438.5,484.7 L439.4,474.2 L440.5,456.8 L441.6,446.3 L442.7,460.5 L443.8,465.0 L444.9,474.1 L446.0,487.0 L447.1,495.7 L448.2,504.5 L449.3,514.0 L450.4,519.1 L451.5,521.3 L452.6,526.1 L453.7,531.1 L454.8,533.9 L455.9,536.3 L457.0,536.4 L458.1,539.5 L459.2,540.1 L460.3,540.0 L461.4,541.4 L462.5,543.2 L463.6,541.4 L464.7,542.9 L465.8,540.7 L466.9,540.6 L468.0,540.2 L469.1,540.2 L470.2,538.2 L471.3,538.0 L472.4,535.3 L473.5,535.1 L474.6,533.1 L475.7,531.8 L476.8,532.6 L477.9,531.5 L479.0,531.7 L480.1,529.1 L481.2,529.7 L482.3,528.8 L483.4,527.1 L484.5,527.5 L485.6,528.7 L486.7,526.7 L487.8,527.6 L488.9,527.2 L490.0,527.3 L491.1,527.7 L492.2,524.9 L493.3,526.5 L494.4,523.4 L495.5,521.8 L496.6,522.7 L497.7,524.1 L498.8,523.4 L499.9,524.0 L501.0,526.5 L502.1,524.7 L503.2,526.2 L504.3,526.9 L505.4,527.8 L506.5,527.5 L507.6,527.8 L508.7,529.3 L509.8,531.9 L510.9,530.2 L512.0,530.4 L513.1,533.6 L514.2,533.9 L515.3,530.2 L516.4,535.3 L517.5,535.3 L518.6,534.4 L519.7,534.3 L520.8,536.8 L521.9,534.6 L523.0,536.0 L524.1,535.6 L525.2,537.1 L526.3,534.0 L527.4,535.8 L528.5,534.1 L529.6,535.1 L530.7,530.9 L531.8,532.3 L532.9,534.7 L534.0,531.4 L535.1,531.6 L536.2,531.7 L537.3,531.0 L538.4,529.9 L539.5,531.8 L540.6,531.3 L541.7,529.7 L542.8,529.5 L543.9,529.7 L545.0,528.4 L546.1,528.4 L547.2,527.9 L548.3,528.8 L549.4,528.5 L550.5,527.2 L551.6,528.2 L552.7,527.2 L553.8,527.2 L554.9,527.9 L556.0,524.2 L557.1,527.8 L558.2,528.0 L559.3,526.7 L560.4,526.5 L561.5,527.3 L562.6,527.3 L563.7,529.2 L564.8,527.2 L565.9,527.4 L567.0,527.7 L568.1,529.0 L569.2,527.0 L570.3,526.4 L571.4,526.5 L572.5,527.0 L573.6,524.3 L574.7,526.6 L575.8,526.4 L576.9,527.5 L578.0,528.2 L579.1,529.3 L580.2,527.9 L581.3,529.6 L582.4,528.5 L583.5,528.3 L584.6,529.9 L585.7,530.8 L586.8,531.2 L587.9,531.3 L589.0,531.1 L590.1,531.1 L591.2,532.9 L592.3,531.0 L593.4,530.2 L594.5,530.6 L595.6,530.0 L596.7,532.4 L597.8,529.6 L598.9,529.7 L600.0,531.7 L601.1,529.0 L602.2,531.6 L603.3,530.7 L604.4,529.8 L605.5,530.5 L606.6,529.5 L607.7,530.5 L608.8,530.8 L609.9,531.3 L611.0,529.8 L612.1,530.5 L613.2,531.2 L614.3,529.1 L615.4,529.3 L616.5,531.5 L617.6,530.8 L618.7,529.5 L619.8,531.3 L620.9,531.4 L622.0,530.3 L623.1,529.3 L624.2,531.0 L625.3,531.6 L626.4,529.8 L627.5,531.8 L628.6,531.4 L629.7,531.1 L630.8,531.0 L631.9,531.6 L633.0,530.9 L634.1,531.3 L634.1,538.1 L633.0,538.4 L631.9,538.5 L630.8,536.5 L629.7,537.6 L628.6,538.9 L627.5,538.1 L626.4,535.6 L625.3,537.1 L624.2,537.9 L623.1,535.7 L622.0,538.6 L620.9,535.8 L619.8,538.3 L618.7,538.6 L617.6,536.5 L616.5,537.1 L615.4,536.4 L614.3,535.4 L613.2,538.0 L612.1,538.1 L611.0,537.0 L609.9,537.7 L608.8,538.9 L607.7,536.1 L606.6,538.0 L605.5,535.5 L604.4,535.4 L603.3,537.8 L602.2,536.3 L601.1,536.4 L600.0,539.2 L598.9,535.8 L597.8,540.1 L596.7,536.4 L595.6,536.6 L594.5,538.4 L593.4,536.6 L592.3,538.0 L591.2,537.6 L590.1,537.1 L589.0,536.9 L587.9,539.9 L586.8,535.7 L585.7,535.9 L584.6,537.1 L583.5,535.9 L582.4,537.0 L581.3,536.2 L580.2,534.9 L579.1,534.8 L578.0,534.5 L576.9,533.1 L575.8,532.6 L574.7,533.0 L573.6,533.5 L572.5,532.3 L571.4,534.4 L570.3,532.3 L569.2,533.0 L568.1,534.7 L567.0,535.1 L565.9,533.1 L564.8,535.8 L563.7,534.4 L562.6,533.7 L561.5,533.2 L560.4,533.4 L559.3,532.6 L558.2,536.0 L557.1,534.0 L556.0,533.2 L554.9,532.2 L553.8,532.2 L552.7,533.7 L551.6,535.6 L550.5,534.7 L549.4,533.1 L548.3,535.9 L547.2,536.3 L546.1,535.4 L545.0,537.2 L543.9,535.2 L542.8,537.4 L541.7,536.8 L540.6,538.4 L539.5,537.4 L538.4,537.5 L537.3,538.2 L536.2,540.0 L535.1,537.5 L534.0,537.5 L532.9,539.5 L531.8,539.6 L530.7,538.8 L529.6,541.3 L528.5,541.4 L527.4,541.1 L526.3,541.1 L525.2,542.6 L524.1,543.5 L523.0,541.3 L521.9,540.9 L520.8,542.1 L519.7,542.4 L518.6,542.3 L517.5,541.3 L516.4,539.8 L515.3,538.4 L514.2,540.8 L513.1,538.2 L512.0,539.0 L510.9,539.1 L509.8,536.8 L508.7,537.6 L507.6,535.4 L506.5,534.9 L505.4,535.2 L504.3,532.1 L503.2,532.1 L502.1,532.8 L501.0,532.9 L499.9,530.8 L498.8,531.3 L497.7,530.6 L496.6,529.7 L495.5,529.7 L494.4,529.8 L493.3,532.8 L492.2,532.5 L491.1,531.7 L490.0,533.6 L488.9,532.7 L487.8,533.2 L486.7,534.0 L485.6,535.9 L484.5,533.1 L483.4,535.0 L482.3,536.3 L481.2,536.2 L480.1,537.4 L479.0,535.8 L477.9,540.8 L476.8,537.9 L475.7,541.7 L474.6,540.9 L473.5,541.3 L472.4,541.2 L471.3,542.0 L470.2,545.2 L469.1,545.2 L468.0,545.9 L466.9,546.9 L465.8,547.0 L464.7,548.1 L463.6,547.7 L462.5,550.9 L461.4,547.1 L460.3,546.2 L459.2,546.2 L458.1,544.4 L457.0,542.8 L455.9,540.5 L454.8,538.8 L453.7,535.5 L452.6,531.5 L451.5,529.2 L450.4,524.0 L449.3,519.2 L448.2,515.4 L447.1,507.3 L446.0,497.4 L444.9,487.6 L443.8,473.9 L442.7,466.3 L441.6,465.4 L440.5,470.3 L439.4,482.2 L438.5,493.2 L437.6,503.8 L436.7,518.5 L435.8,530.2 L434.9,537.4 L434.0,547.1 L433.1,554.1 L432.2,556.7 L431.3,557.6 L430.4,559.6 L429.5,559.5 L428.6,558.5 L427.7,560.0Z" fill="#8ec5dc" stroke="#8ec5dc" stroke-width="0.8" stroke-linejoin="round"/>
<path d="M465.6,476.1 V560" stroke="#f4a97a" stroke-width="2.2" fill="none" stroke-dasharray="10,6"/>
<path d="M464.5,476.1 H634.5" stroke="#f4a97a" stroke-width="2.2" fill="none" stroke-dasharray="9.3,8.5" stroke-dashoffset="0"/>
<path d="M413.0,560.0 L414.5,560.0 L416.0,560.0 L417.5,560.0 L419.0,560.0 L420.5,560.0 L422.0,560.0 L423.5,560.0 L425.0,560.0 L426.5,560.0 L428.0,558.8 L429.5,557.5 L431.0,555.7 L432.5,550.8 L434.0,540.5 L435.5,526.5 L437.0,507.7 L438.5,487.8 L440.0,470.3 L441.5,460.2 L443.0,464.0 L444.5,477.7 L446.0,492.4 L447.5,506.2 L449.0,514.9 L450.5,522.3 L452.0,527.1 L453.5,532.9 L455.0,535.4 L456.5,539.6 L458.0,540.3 L459.5,542.2 L461.0,544.3 L462.5,545.0 L464.0,545.1 L465.5,546.1 L467.0,543.7 L468.5,541.6 L470.0,541.6 L471.5,538.5 L473.0,537.3 L474.5,535.4 L476.0,535.6 L477.5,535.3 L479.0,532.6 L480.5,532.0 L482.0,532.4 L483.5,533.0 L485.0,532.3 L486.5,530.7 L488.0,531.3 L489.5,529.1 L491.0,529.6 L492.5,530.0 L494.0,527.9 L495.5,528.0 L497.0,526.1 L498.5,526.3 L500.0,527.9 L501.5,528.3 L503.0,529.0 L504.5,529.7 L506.0,530.2 L507.5,533.7 L509.0,533.6 L510.5,533.8 L512.0,535.6 L513.5,535.6 L515.0,537.6 L516.5,536.0 L518.0,537.6 L519.5,539.2 L521.0,538.1 L522.5,539.4 L524.0,539.8 L525.5,538.9 L527.0,539.5 L528.5,538.7 L530.0,536.2 L531.5,536.1 L533.0,537.5 L534.5,535.0 L536.0,536.7 L537.5,535.4 L539.0,533.5 L540.5,533.8 L542.0,534.2 L543.5,533.5 L545.0,533.0 L546.5,533.2 L548.0,530.4 L549.5,532.6 L551.0,531.2 L552.5,530.0 L554.0,530.7 L555.5,528.9 L557.0,530.7 L558.5,528.7 L560.0,529.1 L561.5,529.9 L563.0,529.6 L564.5,531.0 L566.0,530.1 L567.5,530.1 L569.0,530.6 L570.5,530.4 L572.0,529.5 L573.5,530.2 L575.0,531.2 L576.5,529.7 L578.0,531.6 L579.5,531.6 L581.0,531.4 L582.5,533.6 L584.0,534.5 L585.5,534.7 L587.0,533.9 L588.5,534.9 L590.0,535.5 L591.5,535.1 L593.0,533.8 L594.5,535.3 L596.0,534.5 L597.5,532.9 L599.0,533.3 L600.5,534.1 L602.0,533.5 L603.5,533.4 L605.0,534.3 L606.5,533.7 L608.0,533.9 L609.5,532.5 L611.0,533.9 L612.5,533.0 L614.0,532.2 L615.5,532.4 L617.0,534.1 L618.5,533.5 L620.0,534.4 L621.5,534.3 L623.0,534.1 L624.5,533.2 L626.0,532.8 L627.5,534.6 L629.0,535.4 L630.5,534.2 L632.0,535.2 L633.5,535.3" fill="none" stroke="#3a80c0" stroke-width="2.3" stroke-linejoin="round"/>
<path d="M430.5,560.0 L430.5,560.1 L430.5,560.3 L430.6,560.4 L430.6,560.5 L430.8,560.2 L431.1,559.5 L431.6,558.3 L432.2,556.8 L432.9,554.9 L433.6,552.9 L434.4,550.7 L435.1,548.6 L435.8,546.5 L436.4,544.2 L437.1,541.9 L437.8,539.5 L438.4,537.0 L439.1,534.5 L439.8,531.9 L440.5,529.2 L441.2,526.4 L441.8,523.6 L442.5,521.0 L443.2,518.5 L443.9,516.2 L444.5,514.1 L445.1,512.0 L445.8,510.1 L446.5,508.2 L447.2,506.4 L448.0,504.7 L448.8,503.1 L449.6,501.7 L450.4,500.2 L451.3,498.8 L452.2,497.3 L453.2,495.8 L454.2,494.3 L455.2,492.8 L456.2,491.3 L457.3,489.8 L458.3,488.3 L459.3,486.8 L460.3,485.2 L461.3,483.6 L462.3,482.1 L463.3,480.6 L464.3,479.2 L465.3,477.9 L466.3,476.8 L467.4,475.8 L468.4,474.7 L469.4,473.5 L470.3,472.2 L471.2,470.7 L472.1,469.2 L472.9,467.6 L473.7,465.9 L474.6,464.1 L475.4,462.1 L476.3,459.9 L477.1,457.5 L478.0,454.9 L478.9,452.4 L479.7,450.0 L480.4,448.0 L481.0,446.5 L481.5,445.4 L481.9,444.5 L482.3,443.5 L482.8,442.1 L483.4,440.0 L484.2,437.2 L485.0,433.8 L486.0,430.0 L487.0,426.0 L488.0,421.9 L489.0,418.0 L490.1,414.1 L491.2,410.1 L492.4,406.1 L493.6,402.1 L494.7,398.0 L495.7,394.0 L496.6,390.1 L497.3,386.2 L498.0,382.4 L498.7,378.4 L499.4,374.3 L500.0,370.0 L500.7,365.0 L501.4,359.3 L502.1,353.5 L502.7,348.0 L503.2,343.3 L503.6,340.0" fill="none" stroke="#b8acde" stroke-width="1.4"/>
<path d="M456.2,365.3 L551,384 M441.6,389.2 L482.2,439.3" stroke="#1f3df5" stroke-width="1" stroke-dasharray="3,2" fill="none"/><circle cx="531.5" cy="430.3" r="46.5" fill="#fff" fill-opacity="0.95"/><g mask="url(#pnM2)"><rect x="487.5" y="386.3" width="88" height="88" filter="url(#noiseR)"/></g><path d="M540.6,405.1L539.7,400.0" stroke="#cfcfcf" stroke-width="2.4"/><path d="M540.6,405.1L538.6,409.9" stroke="#cfcfcf" stroke-width="2.4"/><circle cx="540.6" cy="405.1" r="3.6" fill="url(#gRed)"/><circle cx="539.7" cy="400.0" r="2.5" fill="url(#gWhite)"/><circle cx="538.6" cy="409.9" r="2.5" fill="url(#gWhite)"/><path d="M526.8,409.0L522.8,409.7" stroke="#cfcfcf" stroke-width="2.4"/><path d="M526.8,409.0L528.8,413.8" stroke="#cfcfcf" stroke-width="2.4"/><circle cx="526.8" cy="409" r="3.6" fill="url(#gRed)"/><circle cx="522.8" cy="409.7" r="2.5" fill="url(#gWhite)"/><circle cx="528.8" cy="413.8" r="2.5" fill="url(#gWhite)"/><path d="M517.6,419.6L514.5,423.7" stroke="#cfcfcf" stroke-width="2.4"/><path d="M517.6,419.6L522.0,417.0" stroke="#cfcfcf" stroke-width="2.4"/><circle cx="517.6" cy="419.6" r="3.6" fill="url(#gRed)"/><circle cx="514.5" cy="423.7" r="2.5" fill="url(#gWhite)"/><circle cx="522.0" cy="417.0" r="2.5" fill="url(#gWhite)"/><path d="M557.7,409.7L555.2,414.3" stroke="#cfcfcf" stroke-width="2.4"/><circle cx="557.7" cy="409.7" r="3.6" fill="url(#gRed)"/><circle cx="555.2" cy="414.3" r="2.5" fill="url(#gWhite)"/><path d="M515.0,440.0L519.7,442.3" stroke="#cfcfcf" stroke-width="2.4"/><circle cx="515" cy="440" r="3.6" fill="url(#gRed)"/><circle cx="519.7" cy="442.3" r="2.5" fill="url(#gWhite)"/><path d="M568.8,438.0L563.9,436.3" stroke="#cfcfcf" stroke-width="2.4"/><path d="M568.8,438.0L571.5,433.6" stroke="#cfcfcf" stroke-width="2.4"/><circle cx="568.8" cy="438" r="3.6" fill="url(#gRed)"/><circle cx="563.9" cy="436.3" r="2.5" fill="url(#gWhite)"/><circle cx="571.5" cy="433.6" r="2.5" fill="url(#gWhite)"/><path d="M520.2,457.7L515.6,455.3" stroke="#cfcfcf" stroke-width="2.4"/><circle cx="520.2" cy="457.7" r="3.6" fill="url(#gRed)"/><circle cx="515.6" cy="455.3" r="2.5" fill="url(#gWhite)"/><path d="M547.2,455.0L550.8,458.7" stroke="#cfcfcf" stroke-width="2.4"/><circle cx="547.2" cy="455" r="3.6" fill="url(#gRed)"/><circle cx="550.8" cy="458.7" r="2.5" fill="url(#gWhite)"/><circle cx="513" cy="406.4" r="2" fill="url(#gWhite)"/><circle cx="503" cy="450.4" r="2" fill="#e8e0e0"/><circle cx="498.5" cy="444.5" r="2.6" fill="#f0a0a0" opacity="0.7"/><circle cx="567.5" cy="455.7" r="2" fill="#eee"/><circle cx="540" cy="433" r="16" fill="url(#gRed)"/><circle cx="534.3" cy="443.2" r="11.5" fill="url(#gWhite)"/><circle cx="531.5" cy="430.3" r="46.5" fill="none" stroke="#1f3df5" stroke-width="2.6" stroke-dasharray="6.5,3.6"/><circle cx="446.8" cy="376.1" r="13.2" fill="none" stroke="#1f3df5" stroke-width="2.6" stroke-dasharray="6.5,3.6"/><circle cx="446.8" cy="376.5" r="3" fill="url(#gWhite)"/><path d="M444,374.5 a3,3 0 0 1 5.6,0" fill="#e86a6a"/>
<rect x="413" y="340" width="221.5" height="220" fill="none" stroke="#000" stroke-width="2"/>
<path d="M413,560.0h5 M413,546.2h3 M413,532.5h5 M413,518.8h3 M413,505.0h5 M413,491.2h3 M413,477.5h5 M413,463.8h3 M413,450.0h5 M413,436.2h3 M413,422.5h5 M413,408.8h3 M413,395.0h5 M413,381.2h3 M413,367.5h5 M413,353.8h3 M413,340.0h5 M634.5,560.0h-5 M634.5,532.5h-3 M634.5,505.0h-5 M634.5,477.5h-3 M634.5,450.0h-5 M634.5,422.5h-3 M634.5,395.0h-5 M634.5,367.5h-3 M634.5,340.0h-5 M413.0,560v-5 M440.7,560v-3 M468.3,560v-5 M495.9,560v-3 M523.6,560v-5 M551.2,560v-3 M578.9,560v-5 M606.6,560v-3 M634.2,560v-5" stroke="#000" stroke-width="1.7" fill="none"/>
<text x="405.2" y="566.55" font-size="20.2" text-anchor="end" font-weight="normal" fill="#000" >0</text>
<text x="405.2" y="539.05" font-size="20.2" text-anchor="end" font-weight="normal" fill="#000" >1</text>
<text x="405.2" y="511.55" font-size="20.2" text-anchor="end" font-weight="normal" fill="#000" >2</text>
<text x="405.2" y="484.05" font-size="20.2" text-anchor="end" font-weight="normal" fill="#000" >3</text>
<text x="405.2" y="456.55" font-size="20.2" text-anchor="end" font-weight="normal" fill="#000" >4</text>
<text x="405.2" y="429.05" font-size="20.2" text-anchor="end" font-weight="normal" fill="#000" >5</text>
<text x="405.2" y="401.55" font-size="20.2" text-anchor="end" font-weight="normal" fill="#000" >6</text>
<text x="405.2" y="374.05" font-size="20.2" text-anchor="end" font-weight="normal" fill="#000" >7</text>
<text x="405.2" y="346.55" font-size="20.2" text-anchor="end" font-weight="normal" fill="#000" >8</text>
<text x="641.1" y="566.25" font-size="20.2" text-anchor="start" font-weight="normal" fill="#000" >0</text>
<text x="641.1" y="511.25" font-size="20.2" text-anchor="start" font-weight="normal" fill="#000" >5</text>
<text x="641.1" y="456.25" font-size="20.2" text-anchor="start" font-weight="normal" fill="#000" >10</text>
<text x="641.1" y="401.25" font-size="20.2" text-anchor="start" font-weight="normal" fill="#000" >15</text>
<text x="641.1" y="346.25" font-size="20.2" text-anchor="start" font-weight="normal" fill="#000" >20</text>
<text x="413.0" y="582.9" font-size="20.2" text-anchor="middle" font-weight="normal" fill="#000" >0.2</text>
<text x="468.3" y="582.9" font-size="20.2" text-anchor="middle" font-weight="normal" fill="#000" >0.4</text>
<text x="523.6" y="582.9" font-size="20.2" text-anchor="middle" font-weight="normal" fill="#000" >0.6</text>
<text x="578.9000000000001" y="582.9" font-size="20.2" text-anchor="middle" font-weight="normal" fill="#000" >0.8</text>
<text x="634.2" y="582.9" font-size="20.2" text-anchor="middle" font-weight="normal" fill="#000" >1.0</text>
<text x="523.3000000000001" y="616.1" font-size="19.8" text-anchor="middle" font-weight="normal" fill="#000" >r (nm)</text>
<text x="0" y="0" font-size="20.5" text-anchor="middle" transform="translate(370.3,450.8) rotate(-90)">g(r)</text>
<text x="0" y="0" font-size="20" text-anchor="middle" transform="translate(685.5,449.6) rotate(-90)">Coordinate Number</text>
<path d="M562.5,353h19" stroke="#b8acde" stroke-width="1.8"/><path d="M562.5,364h19" stroke="#3a80c0" stroke-width="1.8"/>
<text x="583.5" y="355.6" font-size="9.8" text-anchor="start" font-weight="normal" fill="#000" >CN</text>
<text x="583.5" y="366.6" font-size="9.8" text-anchor="start" font-weight="normal" fill="#000" >RDF</text>
<text x="471.535" y="495.5" font-size="16.5" text-anchor="start" font-weight="normal" fill="#000" >7.6</text>
</svg></body></html>
